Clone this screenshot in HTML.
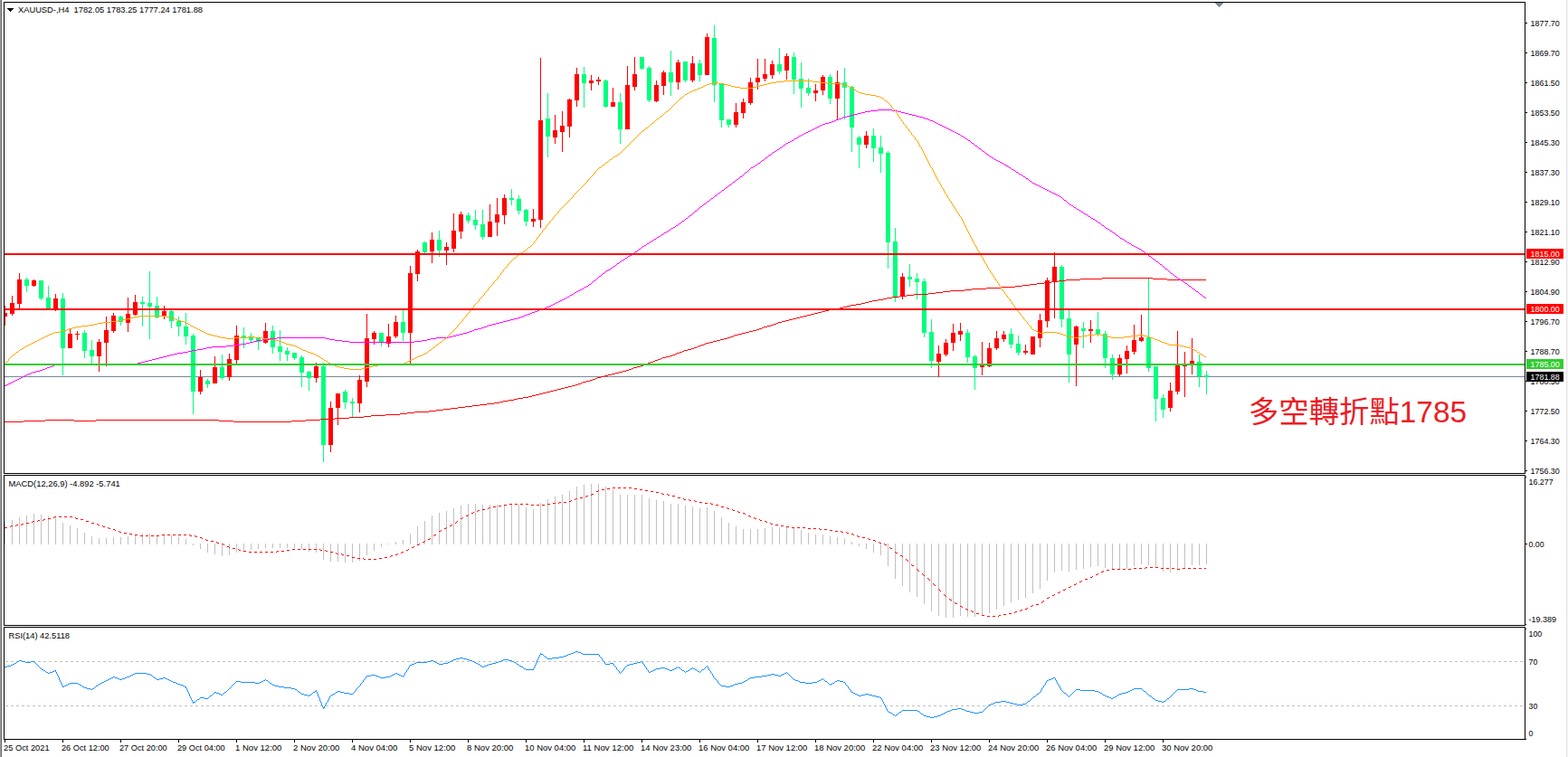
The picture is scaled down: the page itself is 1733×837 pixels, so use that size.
<!DOCTYPE html>
<html><head><meta charset="utf-8"><title>XAUUSD H4</title>
<style>html,body{margin:0;padding:0;background:#fff;overflow:hidden}svg{display:block}text{font-family:"Liberation Sans",sans-serif;font-size:9.5px;fill:#000}</style></head><body>
<svg width="1733" height="837" viewBox="0 0 1733 837">
<rect width="1733" height="837" fill="#fff"/>
<g shape-rendering="crispEdges">
<rect x="0" y="0" width="1" height="837" fill="#a0a0a0"/>
<rect x="1" y="0" width="1" height="837" fill="#696969"/>
<rect x="1731" y="0" width="1" height="837" fill="#e3e3e3"/>
<rect x="1732" y="0" width="1" height="837" fill="#f6f6f6"/>
</g>
<rect x="5" y="416" width="1680" height="1" fill="#778899" shape-rendering="crispEdges"/>
<g shape-rendering="crispEdges">
<rect x="5" y="338" width="1" height="22" fill="#ff0000"/>
<rect x="5" y="346" width="3" height="4" fill="#ff0000"/>
<rect x="13" y="327" width="1" height="22" fill="#ff0000"/>
<rect x="11" y="335" width="5" height="12" fill="#ff0000"/>
<rect x="21" y="302" width="1" height="39" fill="#ff0000"/>
<rect x="19" y="309" width="5" height="27" fill="#ff0000"/>
<rect x="29" y="307" width="1" height="16" fill="#00ff7f"/>
<rect x="27" y="309" width="5" height="7" fill="#00ff7f"/>
<rect x="37" y="309" width="1" height="8" fill="#ff0000"/>
<rect x="35" y="310" width="5" height="6" fill="#ff0000"/>
<rect x="45" y="310" width="1" height="22" fill="#00ff7f"/>
<rect x="43" y="310" width="5" height="20" fill="#00ff7f"/>
<rect x="53" y="316" width="1" height="25" fill="#00ff7f"/>
<rect x="51" y="329" width="5" height="12" fill="#00ff7f"/>
<rect x="61" y="325" width="1" height="19" fill="#ff0000"/>
<rect x="59" y="330" width="5" height="11" fill="#ff0000"/>
<rect x="69" y="324" width="1" height="91" fill="#00ff7f"/>
<rect x="67" y="330" width="5" height="55" fill="#00ff7f"/>
<rect x="77" y="364" width="1" height="21" fill="#ff0000"/>
<rect x="75" y="369" width="5" height="16" fill="#ff0000"/>
<rect x="85" y="366" width="1" height="10" fill="#ff0000"/>
<rect x="83" y="369" width="5" height="1" fill="#ff0000"/>
<rect x="93" y="365" width="1" height="31" fill="#00ff7f"/>
<rect x="91" y="368" width="5" height="20" fill="#00ff7f"/>
<rect x="101" y="376" width="1" height="26" fill="#00ff7f"/>
<rect x="99" y="387" width="5" height="7" fill="#00ff7f"/>
<rect x="109" y="375" width="1" height="36" fill="#ff0000"/>
<rect x="107" y="378" width="5" height="16" fill="#ff0000"/>
<rect x="117" y="350" width="1" height="55" fill="#ff0000"/>
<rect x="115" y="365" width="5" height="14" fill="#ff0000"/>
<rect x="125" y="346" width="1" height="22" fill="#ff0000"/>
<rect x="123" y="349" width="5" height="17" fill="#ff0000"/>
<rect x="133" y="349" width="1" height="11" fill="#00ff7f"/>
<rect x="131" y="350" width="5" height="6" fill="#00ff7f"/>
<rect x="141" y="329" width="1" height="38" fill="#ff0000"/>
<rect x="139" y="347" width="5" height="10" fill="#ff0000"/>
<rect x="149" y="326" width="1" height="23" fill="#ff0000"/>
<rect x="147" y="334" width="5" height="14" fill="#ff0000"/>
<rect x="157" y="328" width="1" height="33" fill="#00ff7f"/>
<rect x="155" y="334" width="5" height="2" fill="#00ff7f"/>
<rect x="165" y="300" width="1" height="75" fill="#00ff7f"/>
<rect x="163" y="335" width="5" height="4" fill="#00ff7f"/>
<rect x="173" y="328" width="1" height="24" fill="#00ff7f"/>
<rect x="171" y="338" width="5" height="13" fill="#00ff7f"/>
<rect x="181" y="338" width="1" height="15" fill="#ff0000"/>
<rect x="179" y="344" width="5" height="5" fill="#ff0000"/>
<rect x="189" y="343" width="1" height="20" fill="#00ff7f"/>
<rect x="187" y="344" width="5" height="11" fill="#00ff7f"/>
<rect x="197" y="350" width="1" height="22" fill="#00ff7f"/>
<rect x="195" y="355" width="5" height="6" fill="#00ff7f"/>
<rect x="205" y="346" width="1" height="35" fill="#00ff7f"/>
<rect x="203" y="361" width="5" height="11" fill="#00ff7f"/>
<rect x="213" y="369" width="1" height="89" fill="#00ff7f"/>
<rect x="211" y="371" width="5" height="62" fill="#00ff7f"/>
<rect x="221" y="409" width="1" height="27" fill="#ff0000"/>
<rect x="219" y="417" width="5" height="16" fill="#ff0000"/>
<rect x="229" y="419" width="1" height="10" fill="#00ff7f"/>
<rect x="227" y="421" width="5" height="4" fill="#00ff7f"/>
<rect x="237" y="394" width="1" height="30" fill="#ff0000"/>
<rect x="235" y="406" width="5" height="18" fill="#ff0000"/>
<rect x="245" y="392" width="1" height="28" fill="#00ff7f"/>
<rect x="243" y="406" width="5" height="12" fill="#00ff7f"/>
<rect x="253" y="391" width="1" height="30" fill="#ff0000"/>
<rect x="251" y="397" width="5" height="20" fill="#ff0000"/>
<rect x="261" y="360" width="1" height="42" fill="#ff0000"/>
<rect x="259" y="371" width="5" height="27" fill="#ff0000"/>
<rect x="269" y="362" width="1" height="23" fill="#00ff7f"/>
<rect x="267" y="371" width="5" height="3" fill="#00ff7f"/>
<rect x="277" y="368" width="1" height="10" fill="#00ff7f"/>
<rect x="275" y="373" width="5" height="3" fill="#00ff7f"/>
<rect x="285" y="373" width="1" height="14" fill="#00ff7f"/>
<rect x="283" y="374" width="5" height="4" fill="#00ff7f"/>
<rect x="293" y="357" width="1" height="23" fill="#ff0000"/>
<rect x="291" y="366" width="5" height="13" fill="#ff0000"/>
<rect x="301" y="360" width="1" height="31" fill="#00ff7f"/>
<rect x="299" y="366" width="5" height="18" fill="#00ff7f"/>
<rect x="309" y="365" width="1" height="34" fill="#00ff7f"/>
<rect x="307" y="383" width="5" height="6" fill="#00ff7f"/>
<rect x="317" y="384" width="1" height="15" fill="#00ff7f"/>
<rect x="315" y="388" width="5" height="4" fill="#00ff7f"/>
<rect x="325" y="390" width="1" height="8" fill="#00ff7f"/>
<rect x="323" y="390" width="5" height="6" fill="#00ff7f"/>
<rect x="333" y="393" width="1" height="35" fill="#00ff7f"/>
<rect x="331" y="395" width="5" height="17" fill="#00ff7f"/>
<rect x="341" y="410" width="1" height="22" fill="#00ff7f"/>
<rect x="339" y="411" width="5" height="7" fill="#00ff7f"/>
<rect x="349" y="401" width="1" height="22" fill="#ff0000"/>
<rect x="347" y="405" width="5" height="13" fill="#ff0000"/>
<rect x="357" y="401" width="1" height="110" fill="#00ff7f"/>
<rect x="355" y="405" width="5" height="87" fill="#00ff7f"/>
<rect x="365" y="444" width="1" height="56" fill="#ff0000"/>
<rect x="363" y="451" width="5" height="41" fill="#ff0000"/>
<rect x="373" y="435" width="1" height="35" fill="#ff0000"/>
<rect x="371" y="435" width="5" height="16" fill="#ff0000"/>
<rect x="381" y="431" width="1" height="21" fill="#00ff7f"/>
<rect x="379" y="433" width="5" height="12" fill="#00ff7f"/>
<rect x="389" y="440" width="1" height="22" fill="#00ff7f"/>
<rect x="387" y="444" width="5" height="2" fill="#00ff7f"/>
<rect x="397" y="415" width="1" height="41" fill="#ff0000"/>
<rect x="395" y="420" width="5" height="26" fill="#ff0000"/>
<rect x="405" y="347" width="1" height="81" fill="#ff0000"/>
<rect x="403" y="374" width="5" height="48" fill="#ff0000"/>
<rect x="413" y="366" width="1" height="15" fill="#ff0000"/>
<rect x="411" y="368" width="5" height="7" fill="#ff0000"/>
<rect x="421" y="368" width="1" height="15" fill="#00ff7f"/>
<rect x="419" y="368" width="5" height="10" fill="#00ff7f"/>
<rect x="429" y="358" width="1" height="26" fill="#ff0000"/>
<rect x="427" y="372" width="5" height="8" fill="#ff0000"/>
<rect x="437" y="349" width="1" height="25" fill="#ff0000"/>
<rect x="435" y="356" width="5" height="16" fill="#ff0000"/>
<rect x="445" y="343" width="1" height="34" fill="#00ff7f"/>
<rect x="443" y="356" width="5" height="12" fill="#00ff7f"/>
<rect x="453" y="294" width="1" height="108" fill="#ff0000"/>
<rect x="451" y="302" width="5" height="66" fill="#ff0000"/>
<rect x="461" y="276" width="1" height="35" fill="#ff0000"/>
<rect x="459" y="278" width="5" height="25" fill="#ff0000"/>
<rect x="469" y="267" width="1" height="13" fill="#00ff7f"/>
<rect x="467" y="268" width="5" height="11" fill="#00ff7f"/>
<rect x="477" y="257" width="1" height="34" fill="#ff0000"/>
<rect x="475" y="265" width="5" height="13" fill="#ff0000"/>
<rect x="485" y="255" width="1" height="29" fill="#00ff7f"/>
<rect x="483" y="265" width="5" height="12" fill="#00ff7f"/>
<rect x="493" y="268" width="1" height="25" fill="#ff0000"/>
<rect x="491" y="273" width="5" height="4" fill="#ff0000"/>
<rect x="501" y="236" width="1" height="43" fill="#ff0000"/>
<rect x="499" y="255" width="5" height="20" fill="#ff0000"/>
<rect x="509" y="234" width="1" height="30" fill="#ff0000"/>
<rect x="507" y="237" width="5" height="19" fill="#ff0000"/>
<rect x="517" y="235" width="1" height="12" fill="#00ff7f"/>
<rect x="515" y="238" width="5" height="6" fill="#00ff7f"/>
<rect x="525" y="232" width="1" height="22" fill="#00ff7f"/>
<rect x="523" y="243" width="5" height="6" fill="#00ff7f"/>
<rect x="533" y="232" width="1" height="33" fill="#00ff7f"/>
<rect x="531" y="248" width="5" height="14" fill="#00ff7f"/>
<rect x="541" y="226" width="1" height="36" fill="#ff0000"/>
<rect x="539" y="245" width="5" height="17" fill="#ff0000"/>
<rect x="549" y="219" width="1" height="42" fill="#ff0000"/>
<rect x="547" y="237" width="5" height="9" fill="#ff0000"/>
<rect x="557" y="215" width="1" height="33" fill="#ff0000"/>
<rect x="555" y="219" width="5" height="19" fill="#ff0000"/>
<rect x="565" y="209" width="1" height="18" fill="#00ff7f"/>
<rect x="563" y="219" width="5" height="2" fill="#00ff7f"/>
<rect x="573" y="216" width="1" height="21" fill="#00ff7f"/>
<rect x="571" y="220" width="5" height="13" fill="#00ff7f"/>
<rect x="581" y="231" width="1" height="19" fill="#00ff7f"/>
<rect x="579" y="232" width="5" height="13" fill="#00ff7f"/>
<rect x="589" y="231" width="1" height="20" fill="#ff0000"/>
<rect x="587" y="242" width="5" height="3" fill="#ff0000"/>
<rect x="597" y="64" width="1" height="188" fill="#ff0000"/>
<rect x="595" y="133" width="5" height="110" fill="#ff0000"/>
<rect x="605" y="103" width="1" height="71" fill="#00ff7f"/>
<rect x="603" y="131" width="5" height="20" fill="#00ff7f"/>
<rect x="613" y="127" width="1" height="32" fill="#ff0000"/>
<rect x="611" y="144" width="5" height="8" fill="#ff0000"/>
<rect x="621" y="123" width="1" height="45" fill="#ff0000"/>
<rect x="619" y="139" width="5" height="7" fill="#ff0000"/>
<rect x="629" y="109" width="1" height="43" fill="#ff0000"/>
<rect x="627" y="110" width="5" height="30" fill="#ff0000"/>
<rect x="637" y="75" width="1" height="43" fill="#ff0000"/>
<rect x="635" y="82" width="5" height="29" fill="#ff0000"/>
<rect x="645" y="74" width="1" height="45" fill="#00ff7f"/>
<rect x="643" y="82" width="5" height="10" fill="#00ff7f"/>
<rect x="653" y="83" width="1" height="17" fill="#ff0000"/>
<rect x="651" y="89" width="5" height="3" fill="#ff0000"/>
<rect x="661" y="85" width="1" height="9" fill="#ff0000"/>
<rect x="659" y="88" width="5" height="2" fill="#ff0000"/>
<rect x="669" y="88" width="1" height="31" fill="#00ff7f"/>
<rect x="667" y="89" width="5" height="29" fill="#00ff7f"/>
<rect x="677" y="97" width="1" height="21" fill="#ff0000"/>
<rect x="675" y="113" width="5" height="5" fill="#ff0000"/>
<rect x="685" y="103" width="1" height="56" fill="#00ff7f"/>
<rect x="683" y="113" width="5" height="30" fill="#00ff7f"/>
<rect x="693" y="73" width="1" height="70" fill="#ff0000"/>
<rect x="691" y="94" width="5" height="49" fill="#ff0000"/>
<rect x="701" y="63" width="1" height="37" fill="#ff0000"/>
<rect x="699" y="82" width="5" height="14" fill="#ff0000"/>
<rect x="709" y="63" width="1" height="14" fill="#00ff7f"/>
<rect x="707" y="63" width="5" height="13" fill="#00ff7f"/>
<rect x="717" y="73" width="1" height="40" fill="#00ff7f"/>
<rect x="715" y="75" width="5" height="36" fill="#00ff7f"/>
<rect x="725" y="89" width="1" height="24" fill="#ff0000"/>
<rect x="723" y="94" width="5" height="18" fill="#ff0000"/>
<rect x="733" y="78" width="1" height="27" fill="#ff0000"/>
<rect x="731" y="80" width="5" height="15" fill="#ff0000"/>
<rect x="741" y="56" width="1" height="50" fill="#00ff7f"/>
<rect x="739" y="80" width="5" height="11" fill="#00ff7f"/>
<rect x="749" y="66" width="1" height="33" fill="#ff0000"/>
<rect x="747" y="69" width="5" height="22" fill="#ff0000"/>
<rect x="757" y="68" width="1" height="23" fill="#00ff7f"/>
<rect x="755" y="68" width="5" height="21" fill="#00ff7f"/>
<rect x="765" y="62" width="1" height="29" fill="#ff0000"/>
<rect x="763" y="70" width="5" height="19" fill="#ff0000"/>
<rect x="773" y="66" width="1" height="24" fill="#00ff7f"/>
<rect x="771" y="70" width="5" height="13" fill="#00ff7f"/>
<rect x="781" y="37" width="1" height="46" fill="#ff0000"/>
<rect x="779" y="41" width="5" height="42" fill="#ff0000"/>
<rect x="789" y="28" width="1" height="85" fill="#00ff7f"/>
<rect x="787" y="42" width="5" height="52" fill="#00ff7f"/>
<rect x="797" y="92" width="1" height="49" fill="#00ff7f"/>
<rect x="795" y="92" width="5" height="41" fill="#00ff7f"/>
<rect x="805" y="132" width="1" height="9" fill="#00ff7f"/>
<rect x="803" y="132" width="5" height="6" fill="#00ff7f"/>
<rect x="813" y="114" width="1" height="27" fill="#ff0000"/>
<rect x="811" y="124" width="5" height="14" fill="#ff0000"/>
<rect x="821" y="109" width="1" height="22" fill="#ff0000"/>
<rect x="819" y="113" width="5" height="12" fill="#ff0000"/>
<rect x="829" y="86" width="1" height="30" fill="#ff0000"/>
<rect x="827" y="91" width="5" height="23" fill="#ff0000"/>
<rect x="837" y="65" width="1" height="34" fill="#ff0000"/>
<rect x="835" y="86" width="5" height="5" fill="#ff0000"/>
<rect x="845" y="65" width="1" height="25" fill="#ff0000"/>
<rect x="843" y="82" width="5" height="5" fill="#ff0000"/>
<rect x="853" y="67" width="1" height="20" fill="#ff0000"/>
<rect x="851" y="71" width="5" height="12" fill="#ff0000"/>
<rect x="861" y="53" width="1" height="29" fill="#00ff7f"/>
<rect x="859" y="71" width="5" height="8" fill="#00ff7f"/>
<rect x="869" y="59" width="1" height="29" fill="#ff0000"/>
<rect x="867" y="62" width="5" height="16" fill="#ff0000"/>
<rect x="877" y="58" width="1" height="46" fill="#00ff7f"/>
<rect x="875" y="63" width="5" height="25" fill="#00ff7f"/>
<rect x="885" y="69" width="1" height="50" fill="#00ff7f"/>
<rect x="883" y="87" width="5" height="11" fill="#00ff7f"/>
<rect x="893" y="87" width="1" height="19" fill="#00ff7f"/>
<rect x="891" y="97" width="5" height="6" fill="#00ff7f"/>
<rect x="901" y="93" width="1" height="19" fill="#ff0000"/>
<rect x="899" y="100" width="5" height="3" fill="#ff0000"/>
<rect x="909" y="83" width="1" height="22" fill="#ff0000"/>
<rect x="907" y="85" width="5" height="15" fill="#ff0000"/>
<rect x="917" y="82" width="1" height="33" fill="#00ff7f"/>
<rect x="915" y="85" width="5" height="24" fill="#00ff7f"/>
<rect x="925" y="78" width="1" height="54" fill="#ff0000"/>
<rect x="923" y="91" width="5" height="18" fill="#ff0000"/>
<rect x="933" y="75" width="1" height="57" fill="#00ff7f"/>
<rect x="931" y="91" width="5" height="6" fill="#00ff7f"/>
<rect x="941" y="95" width="1" height="73" fill="#00ff7f"/>
<rect x="939" y="96" width="5" height="45" fill="#00ff7f"/>
<rect x="949" y="150" width="1" height="36" fill="#00ff7f"/>
<rect x="947" y="152" width="5" height="8" fill="#00ff7f"/>
<rect x="957" y="145" width="1" height="19" fill="#ff0000"/>
<rect x="955" y="150" width="5" height="10" fill="#ff0000"/>
<rect x="965" y="142" width="1" height="37" fill="#00ff7f"/>
<rect x="963" y="150" width="5" height="14" fill="#00ff7f"/>
<rect x="973" y="150" width="1" height="41" fill="#00ff7f"/>
<rect x="971" y="163" width="5" height="7" fill="#00ff7f"/>
<rect x="981" y="167" width="1" height="130" fill="#00ff7f"/>
<rect x="979" y="169" width="5" height="99" fill="#00ff7f"/>
<rect x="989" y="252" width="1" height="82" fill="#00ff7f"/>
<rect x="987" y="267" width="5" height="61" fill="#00ff7f"/>
<rect x="997" y="302" width="1" height="29" fill="#ff0000"/>
<rect x="995" y="306" width="5" height="22" fill="#ff0000"/>
<rect x="1005" y="292" width="1" height="25" fill="#00ff7f"/>
<rect x="1003" y="306" width="5" height="3" fill="#00ff7f"/>
<rect x="1013" y="302" width="1" height="29" fill="#00ff7f"/>
<rect x="1011" y="308" width="5" height="4" fill="#00ff7f"/>
<rect x="1021" y="308" width="1" height="65" fill="#00ff7f"/>
<rect x="1019" y="311" width="5" height="57" fill="#00ff7f"/>
<rect x="1029" y="353" width="1" height="54" fill="#00ff7f"/>
<rect x="1027" y="367" width="5" height="32" fill="#00ff7f"/>
<rect x="1037" y="382" width="1" height="35" fill="#ff0000"/>
<rect x="1035" y="391" width="5" height="9" fill="#ff0000"/>
<rect x="1045" y="375" width="1" height="19" fill="#ff0000"/>
<rect x="1043" y="379" width="5" height="13" fill="#ff0000"/>
<rect x="1053" y="358" width="1" height="30" fill="#ff0000"/>
<rect x="1051" y="368" width="5" height="11" fill="#ff0000"/>
<rect x="1061" y="357" width="1" height="20" fill="#ff0000"/>
<rect x="1059" y="366" width="5" height="4" fill="#ff0000"/>
<rect x="1069" y="364" width="1" height="37" fill="#00ff7f"/>
<rect x="1067" y="368" width="5" height="27" fill="#00ff7f"/>
<rect x="1077" y="392" width="1" height="39" fill="#00ff7f"/>
<rect x="1075" y="394" width="5" height="13" fill="#00ff7f"/>
<rect x="1085" y="378" width="1" height="37" fill="#ff0000"/>
<rect x="1083" y="404" width="5" height="2" fill="#ff0000"/>
<rect x="1093" y="379" width="1" height="27" fill="#ff0000"/>
<rect x="1091" y="385" width="5" height="20" fill="#ff0000"/>
<rect x="1101" y="366" width="1" height="21" fill="#ff0000"/>
<rect x="1099" y="374" width="5" height="11" fill="#ff0000"/>
<rect x="1109" y="366" width="1" height="12" fill="#ff0000"/>
<rect x="1107" y="370" width="5" height="5" fill="#ff0000"/>
<rect x="1117" y="363" width="1" height="22" fill="#00ff7f"/>
<rect x="1115" y="369" width="5" height="12" fill="#00ff7f"/>
<rect x="1125" y="371" width="1" height="22" fill="#00ff7f"/>
<rect x="1123" y="380" width="5" height="10" fill="#00ff7f"/>
<rect x="1133" y="381" width="1" height="11" fill="#ff0000"/>
<rect x="1131" y="388" width="5" height="2" fill="#ff0000"/>
<rect x="1141" y="372" width="1" height="20" fill="#ff0000"/>
<rect x="1139" y="372" width="5" height="20" fill="#ff0000"/>
<rect x="1149" y="347" width="1" height="37" fill="#ff0000"/>
<rect x="1147" y="354" width="5" height="20" fill="#ff0000"/>
<rect x="1157" y="307" width="1" height="55" fill="#ff0000"/>
<rect x="1155" y="310" width="5" height="45" fill="#ff0000"/>
<rect x="1165" y="279" width="1" height="73" fill="#ff0000"/>
<rect x="1163" y="295" width="5" height="16" fill="#ff0000"/>
<rect x="1173" y="293" width="1" height="69" fill="#00ff7f"/>
<rect x="1171" y="295" width="5" height="58" fill="#00ff7f"/>
<rect x="1181" y="343" width="1" height="80" fill="#00ff7f"/>
<rect x="1179" y="352" width="5" height="40" fill="#00ff7f"/>
<rect x="1189" y="360" width="1" height="67" fill="#ff0000"/>
<rect x="1187" y="361" width="5" height="20" fill="#ff0000"/>
<rect x="1197" y="356" width="1" height="29" fill="#00ff7f"/>
<rect x="1195" y="363" width="5" height="3" fill="#00ff7f"/>
<rect x="1205" y="354" width="1" height="25" fill="#ff0000"/>
<rect x="1203" y="364" width="5" height="2" fill="#ff0000"/>
<rect x="1213" y="345" width="1" height="27" fill="#00ff7f"/>
<rect x="1211" y="364" width="5" height="5" fill="#00ff7f"/>
<rect x="1221" y="366" width="1" height="41" fill="#00ff7f"/>
<rect x="1219" y="369" width="5" height="27" fill="#00ff7f"/>
<rect x="1229" y="392" width="1" height="28" fill="#00ff7f"/>
<rect x="1227" y="396" width="5" height="18" fill="#00ff7f"/>
<rect x="1237" y="392" width="1" height="24" fill="#ff0000"/>
<rect x="1235" y="396" width="5" height="18" fill="#ff0000"/>
<rect x="1245" y="382" width="1" height="31" fill="#ff0000"/>
<rect x="1243" y="388" width="5" height="9" fill="#ff0000"/>
<rect x="1253" y="359" width="1" height="33" fill="#ff0000"/>
<rect x="1251" y="376" width="5" height="13" fill="#ff0000"/>
<rect x="1261" y="348" width="1" height="30" fill="#ff0000"/>
<rect x="1259" y="373" width="5" height="4" fill="#ff0000"/>
<rect x="1269" y="308" width="1" height="103" fill="#00ff7f"/>
<rect x="1267" y="373" width="5" height="34" fill="#00ff7f"/>
<rect x="1277" y="405" width="1" height="61" fill="#00ff7f"/>
<rect x="1275" y="405" width="5" height="36" fill="#00ff7f"/>
<rect x="1285" y="436" width="1" height="26" fill="#00ff7f"/>
<rect x="1283" y="440" width="5" height="13" fill="#00ff7f"/>
<rect x="1293" y="423" width="1" height="32" fill="#ff0000"/>
<rect x="1291" y="432" width="5" height="19" fill="#ff0000"/>
<rect x="1301" y="366" width="1" height="70" fill="#ff0000"/>
<rect x="1299" y="403" width="5" height="30" fill="#ff0000"/>
<rect x="1309" y="389" width="1" height="50" fill="#ff0000"/>
<rect x="1307" y="403" width="5" height="2" fill="#ff0000"/>
<rect x="1317" y="374" width="1" height="40" fill="#ff0000"/>
<rect x="1315" y="399" width="5" height="3" fill="#ff0000"/>
<rect x="1325" y="392" width="1" height="36" fill="#00ff7f"/>
<rect x="1323" y="400" width="5" height="16" fill="#00ff7f"/>
<rect x="1333" y="410" width="1" height="26" fill="#00ff7f"/>
<rect x="1331" y="415" width="5" height="2" fill="#00ff7f"/>
</g>
<path d="M5 466h21v1h-21zM26 465h24v1h-24zM50 464h32v1h-32zM82 465h24v1h-24zM106 464h136v1h-136zM242 465h16v1h-16zM258 466h64v1h-64zM322 465h16v1h-16zM338 464h16v1h-16zM354 463h16v1h-16zM370 462h16v1h-16zM386 461h16v1h-16zM402 460h8v1h-8zM410 459h16v1h-16zM426 458h16v1h-16zM442 457h8v1h-8zM450 456h8v1h-8zM458 455h16v1h-16zM474 454h8v1h-8zM482 453h8v1h-8zM490 452h8v1h-8zM498 451h8v1h-8zM506 450h8v1h-8zM514 449h8v1h-8zM522 448h8v1h-8zM530 447h8v1h-8zM538 446h8v1h-8zM546 445h6v1h-6zM552 444h4v1h-4zM556 443h6v1h-6zM562 442h6v1h-6zM568 441h4v1h-4zM572 440h6v1h-6zM578 439h6v1h-6zM584 438h4v1h-4zM588 437h4v1h-4zM592 436h4v1h-4zM596 435h4v1h-4zM600 434h4v1h-4zM604 433h4v1h-4zM608 432h4v1h-4zM612 431h4v1h-4zM616 430h4v1h-4zM620 429h4v1h-4zM624 428h4v1h-4zM628 427h4v1h-4zM632 426h4v1h-4zM636 425h3v1h-3zM639 424h3v1h-3zM642 423h2v1h-2zM644 422h4v1h-4zM648 421h4v1h-4zM652 420h3v1h-3zM655 419h3v1h-3zM658 418h2v1h-2zM660 417h4v1h-4zM664 416h4v1h-4zM668 415h4v1h-4zM672 414h4v1h-4zM676 413h4v1h-4zM680 412h4v1h-4zM684 411h4v1h-4zM688 410h4v1h-4zM692 409h3v1h-3zM695 408h3v1h-3zM698 407h2v1h-2zM700 406h4v1h-4zM704 405h4v1h-4zM708 404h3v1h-3zM711 403h3v1h-3zM714 402h2v1h-2zM716 401h3v1h-3zM719 400h3v1h-3zM722 399h2v1h-2zM724 398h3v1h-3zM727 397h3v1h-3zM730 396h2v1h-2zM732 395h4v1h-4zM736 394h4v1h-4zM740 393h3v1h-3zM743 392h3v1h-3zM746 391h2v1h-2zM748 390h3v1h-3zM751 389h3v1h-3zM754 388h2v1h-2zM756 387h4v1h-4zM760 386h4v1h-4zM764 385h3v1h-3zM767 384h3v1h-3zM770 383h2v1h-2zM772 382h3v1h-3zM775 381h3v1h-3zM778 380h2v1h-2zM780 379h4v1h-4zM784 378h4v1h-4zM788 377h4v1h-4zM792 376h4v1h-4zM796 375h4v1h-4zM800 374h4v1h-4zM804 373h3v1h-3zM807 372h3v1h-3zM810 371h2v1h-2zM812 370h4v1h-4zM816 369h4v1h-4zM820 368h4v1h-4zM824 367h4v1h-4zM828 366h4v1h-4zM832 365h4v1h-4zM836 364h3v1h-3zM839 363h3v1h-3zM842 362h2v1h-2zM844 361h4v1h-4zM848 360h4v1h-4zM852 359h3v1h-3zM855 358h3v1h-3zM858 357h2v1h-2zM860 356h4v1h-4zM864 355h4v1h-4zM868 354h4v1h-4zM872 353h4v1h-4zM876 352h4v1h-4zM880 351h4v1h-4zM884 350h4v1h-4zM888 349h4v1h-4zM892 348h4v1h-4zM896 347h4v1h-4zM900 346h4v1h-4zM904 345h4v1h-4zM908 344h4v1h-4zM912 343h4v1h-4zM916 342h6v1h-6zM922 341h6v1h-6zM928 340h4v1h-4zM932 339h4v1h-4zM936 338h4v1h-4zM940 337h6v1h-6zM946 336h6v1h-6zM952 335h4v1h-4zM956 334h4v1h-4zM960 333h4v1h-4zM964 332h6v1h-6zM970 331h6v1h-6zM976 330h4v1h-4zM980 329h6v1h-6zM986 328h8v1h-8zM994 327h8v1h-8zM1002 326h8v1h-8zM1010 325h16v1h-16zM1026 324h8v1h-8zM1034 323h8v1h-8zM1042 322h8v1h-8zM1050 321h16v1h-16zM1066 320h8v1h-8zM1074 319h16v1h-16zM1090 318h16v1h-16zM1106 317h16v1h-16zM1122 316h8v1h-8zM1130 315h8v1h-8zM1138 314h8v1h-8zM1146 313h8v1h-8zM1154 312h8v1h-8zM1162 311h8v1h-8zM1170 310h8v1h-8zM1178 309h16v1h-16zM1194 308h24v1h-24zM1218 307h56v1h-56zM1274 308h16v1h-16zM1290 309h43v1h-43z" fill="#ff0000" shape-rendering="crispEdges"/>
<path d="M5 426h2v1h-2zM7 425h2v1h-2zM9 424h2v1h-2zM11 423h2v1h-2zM13 422h2v1h-2zM15 421h2v1h-2zM17 420h2v1h-2zM19 419h2v1h-2zM21 418h2v1h-2zM23 417h2v1h-2zM25 416h2v1h-2zM27 415h2v1h-2zM29 414h2v1h-2zM31 413h3v1h-3zM34 412h2v1h-2zM36 411h4v1h-4zM40 410h4v1h-4zM44 409h3v1h-3zM47 408h3v1h-3zM50 407h2v1h-2zM52 406h3v1h-3zM55 405h3v1h-3zM58 404h2v1h-2zM60 403h86v1h-86zM146 402h6v1h-6zM152 401h4v1h-4zM156 400h4v1h-4zM160 399h4v1h-4zM164 398h4v1h-4zM168 397h4v1h-4zM172 396h4v1h-4zM176 395h4v1h-4zM180 394h4v1h-4zM184 393h4v1h-4zM188 392h4v1h-4zM192 391h4v1h-4zM196 390h6v1h-6zM202 389h6v1h-6zM208 388h4v1h-4zM212 387h6v1h-6zM218 386h6v1h-6zM224 385h4v1h-4zM228 384h6v1h-6zM234 383h16v1h-16zM250 382h8v1h-8zM258 381h8v1h-8zM266 380h6v1h-6zM272 379h4v1h-4zM276 378h4v1h-4zM280 377h4v1h-4zM284 376h6v1h-6zM290 375h8v1h-8zM298 374h8v1h-8zM306 373h54v1h-54zM360 374h4v1h-4zM364 375h6v1h-6zM370 376h8v1h-8zM378 377h8v1h-8zM386 378h72v1h-72zM458 377h8v1h-8zM466 376h6v1h-6zM472 375h4v1h-4zM476 374h6v1h-6zM482 373h14v1h-14zM496 372h4v1h-4zM500 371h4v1h-4zM504 370h4v1h-4zM508 369h4v1h-4zM512 368h4v1h-4zM516 367h3v1h-3zM519 366h3v1h-3zM522 365h2v1h-2zM524 364h4v1h-4zM528 363h4v1h-4zM532 362h3v1h-3zM535 361h3v1h-3zM538 360h2v1h-2zM540 359h4v1h-4zM544 358h4v1h-4zM548 357h4v1h-4zM552 356h4v1h-4zM556 355h4v1h-4zM560 354h4v1h-4zM564 353h4v1h-4zM568 352h4v1h-4zM572 351h3v1h-3zM575 350h3v1h-3zM578 349h2v1h-2zM580 348h3v1h-3zM583 347h3v1h-3zM586 346h2v1h-2zM588 345h3v1h-3zM591 344h3v1h-3zM594 343h2v1h-2zM596 342h3v1h-3zM599 341h3v1h-3zM602 340h2v1h-2zM604 339h3v1h-3zM607 338h2v1h-2zM609 337h2v1h-2zM611 336h2v1h-2zM613 335h2v1h-2zM615 334h2v1h-2zM617 333h2v1h-2zM619 332h2v1h-2zM621 331h2v1h-2zM623 330h2v1h-2zM625 329h2v1h-2zM627 328h2v1h-2zM630 326h2v1h-2zM632 325h2v1h-2zM635 323h2v1h-2zM637 322h2v1h-2zM639 321h2v1h-2zM641 320h2v1h-2zM643 319h2v1h-2zM646 317h2v1h-2zM648 316h2v1h-2zM651 314h2v1h-2zM656 310h2v1h-2zM662 305h2v1h-2zM666 302h2v1h-2zM670 299h2v1h-2zM672 298h2v1h-2zM675 296h2v1h-2zM678 294h2v1h-2zM682 291h2v1h-2zM686 288h2v1h-2zM688 287h2v1h-2zM691 285h2v1h-2zM694 283h2v1h-2zM696 282h2v1h-2zM699 280h2v1h-2zM702 278h2v1h-2zM706 275h2v1h-2zM710 272h2v1h-2zM712 271h2v1h-2zM715 269h2v1h-2zM718 267h2v1h-2zM720 266h2v1h-2zM723 264h2v1h-2zM726 262h2v1h-2zM728 261h2v1h-2zM731 259h2v1h-2zM734 257h2v1h-2zM736 256h2v1h-2zM739 254h2v1h-2zM742 252h2v1h-2zM744 251h2v1h-2zM747 249h2v1h-2zM750 247h2v1h-2zM754 244h2v1h-2zM758 241h2v1h-2zM762 238h2v1h-2zM768 233h2v1h-2zM774 228h2v1h-2zM778 225h2v1h-2zM782 222h2v1h-2zM786 219h2v1h-2zM790 216h2v1h-2zM794 213h2v1h-2zM798 210h2v1h-2zM802 207h2v1h-2zM806 204h2v1h-2zM810 201h2v1h-2zM814 198h2v1h-2zM818 195h2v1h-2zM824 190h2v1h-2zM830 185h2v1h-2zM832 184h2v1h-2zM835 182h2v1h-2zM838 180h2v1h-2zM842 177h2v1h-2zM846 174h2v1h-2zM850 171h2v1h-2zM854 168h2v1h-2zM856 167h2v1h-2zM859 165h2v1h-2zM862 163h2v1h-2zM866 160h2v1h-2zM869 158h2v1h-2zM871 157h2v1h-2zM873 156h2v1h-2zM875 155h2v1h-2zM878 153h2v1h-2zM880 152h2v1h-2zM883 150h2v1h-2zM885 149h2v1h-2zM887 148h2v1h-2zM889 147h2v1h-2zM891 146h2v1h-2zM893 145h2v1h-2zM895 144h2v1h-2zM897 143h2v1h-2zM899 142h2v1h-2zM901 141h2v1h-2zM903 140h2v1h-2zM905 139h2v1h-2zM907 138h2v1h-2zM909 137h3v1h-3zM912 136h4v1h-4zM916 135h3v1h-3zM919 134h3v1h-3zM922 133h2v1h-2zM924 132h3v1h-3zM927 131h3v1h-3zM930 130h2v1h-2zM932 129h4v1h-4zM936 128h4v1h-4zM940 127h4v1h-4zM944 126h4v1h-4zM948 125h4v1h-4zM952 124h4v1h-4zM956 123h6v1h-6zM962 122h8v1h-8zM970 121h16v1h-16zM986 122h6v1h-6zM992 123h4v1h-4zM996 124h4v1h-4zM1000 125h4v1h-4zM1004 126h4v1h-4zM1008 127h4v1h-4zM1012 128h4v1h-4zM1016 129h4v1h-4zM1020 130h3v1h-3zM1023 131h3v1h-3zM1026 132h2v1h-2zM1028 133h3v1h-3zM1031 134h2v1h-2zM1033 135h2v1h-2zM1035 136h2v1h-2zM1037 137h2v1h-2zM1039 138h2v1h-2zM1041 139h2v1h-2zM1043 140h2v1h-2zM1045 141h2v1h-2zM1047 142h2v1h-2zM1049 143h2v1h-2zM1051 144h2v1h-2zM1053 145h2v1h-2zM1055 146h2v1h-2zM1057 147h2v1h-2zM1059 148h2v1h-2zM1062 150h2v1h-2zM1064 151h2v1h-2zM1067 153h2v1h-2zM1070 155h2v1h-2zM1074 158h2v1h-2zM1078 161h2v1h-2zM1082 164h2v1h-2zM1086 167h2v1h-2zM1090 170h2v1h-2zM1094 173h2v1h-2zM1096 174h2v1h-2zM1099 176h2v1h-2zM1101 177h2v1h-2zM1103 178h2v1h-2zM1105 179h2v1h-2zM1107 180h2v1h-2zM1110 182h2v1h-2zM1112 183h2v1h-2zM1115 185h2v1h-2zM1118 187h2v1h-2zM1120 188h2v1h-2zM1123 190h2v1h-2zM1126 192h2v1h-2zM1128 193h2v1h-2zM1131 195h2v1h-2zM1134 197h2v1h-2zM1138 200h2v1h-2zM1141 202h2v1h-2zM1143 203h2v1h-2zM1145 204h2v1h-2zM1147 205h2v1h-2zM1149 206h2v1h-2zM1151 207h2v1h-2zM1153 208h2v1h-2zM1155 209h2v1h-2zM1157 210h2v1h-2zM1159 211h2v1h-2zM1161 212h2v1h-2zM1163 213h2v1h-2zM1165 214h2v1h-2zM1167 215h2v1h-2zM1169 216h2v1h-2zM1171 217h2v1h-2zM1176 221h2v1h-2zM1182 226h2v1h-2zM1184 227h2v1h-2zM1187 229h2v1h-2zM1190 231h2v1h-2zM1192 232h2v1h-2zM1195 234h2v1h-2zM1198 236h2v1h-2zM1200 237h2v1h-2zM1203 239h2v1h-2zM1206 241h2v1h-2zM1208 242h2v1h-2zM1211 244h2v1h-2zM1214 246h2v1h-2zM1218 249h2v1h-2zM1222 252h2v1h-2zM1224 253h2v1h-2zM1227 255h2v1h-2zM1230 257h2v1h-2zM1234 260h2v1h-2zM1238 263h2v1h-2zM1240 264h2v1h-2zM1243 266h2v1h-2zM1246 268h2v1h-2zM1248 269h2v1h-2zM1251 271h2v1h-2zM1253 272h2v1h-2zM1255 273h2v1h-2zM1257 274h2v1h-2zM1259 275h2v1h-2zM1262 277h2v1h-2zM1266 280h2v1h-2zM1270 283h2v1h-2zM1274 286h2v1h-2zM1278 289h2v1h-2zM1282 292h2v1h-2zM1288 297h2v1h-2zM1294 302h2v1h-2zM1298 305h2v1h-2zM1302 308h2v1h-2zM1304 309h2v1h-2zM1307 311h2v1h-2zM1310 313h2v1h-2zM1314 316h2v1h-2zM1318 319h2v1h-2zM1322 322h2v1h-2zM1326 325h2v1h-2zM1330 328h2v1h-2zM629 327v1h1v-1zM634 324v1h1v-1zM645 318v1h1v-1zM650 315v1h1v-1zM653 313v1h1v-1zM654 312v1h1v-1zM655 311v1h1v-1zM658 309v1h1v-1zM659 308v1h1v-1zM660 307v1h1v-1zM661 306v1h1v-1zM664 304v1h1v-1zM665 303v1h1v-1zM668 301v1h1v-1zM669 300v1h1v-1zM674 297v1h1v-1zM677 295v1h1v-1zM680 293v1h1v-1zM681 292v1h1v-1zM684 290v1h1v-1zM685 289v1h1v-1zM690 286v1h1v-1zM693 284v1h1v-1zM698 281v1h1v-1zM701 279v1h1v-1zM704 277v1h1v-1zM705 276v1h1v-1zM708 274v1h1v-1zM709 273v1h1v-1zM714 270v1h1v-1zM717 268v1h1v-1zM722 265v1h1v-1zM725 263v1h1v-1zM730 260v1h1v-1zM733 258v1h1v-1zM738 255v1h1v-1zM741 253v1h1v-1zM746 250v1h1v-1zM749 248v1h1v-1zM752 246v1h1v-1zM753 245v1h1v-1zM756 243v1h1v-1zM757 242v1h1v-1zM760 240v1h1v-1zM761 239v1h1v-1zM764 237v1h1v-1zM765 236v1h1v-1zM766 235v1h1v-1zM767 234v1h1v-1zM770 232v1h1v-1zM771 231v1h1v-1zM772 230v1h1v-1zM773 229v1h1v-1zM776 227v1h1v-1zM777 226v1h1v-1zM780 224v1h1v-1zM781 223v1h1v-1zM784 221v1h1v-1zM785 220v1h1v-1zM788 218v1h1v-1zM789 217v1h1v-1zM792 215v1h1v-1zM793 214v1h1v-1zM796 212v1h1v-1zM797 211v1h1v-1zM800 209v1h1v-1zM801 208v1h1v-1zM804 206v1h1v-1zM805 205v1h1v-1zM808 203v1h1v-1zM809 202v1h1v-1zM812 200v1h1v-1zM813 199v1h1v-1zM816 197v1h1v-1zM817 196v1h1v-1zM820 194v1h1v-1zM821 193v1h1v-1zM822 192v1h1v-1zM823 191v1h1v-1zM826 189v1h1v-1zM827 188v1h1v-1zM828 187v1h1v-1zM829 186v1h1v-1zM834 183v1h1v-1zM837 181v1h1v-1zM840 179v1h1v-1zM841 178v1h1v-1zM844 176v1h1v-1zM845 175v1h1v-1zM848 173v1h1v-1zM849 172v1h1v-1zM852 170v1h1v-1zM853 169v1h1v-1zM858 166v1h1v-1zM861 164v1h1v-1zM864 162v1h1v-1zM865 161v1h1v-1zM868 159v1h1v-1zM877 154v1h1v-1zM882 151v1h1v-1zM1061 149v1h1v-1zM1066 152v1h1v-1zM1069 154v1h1v-1zM1072 156v1h1v-1zM1073 157v1h1v-1zM1076 159v1h1v-1zM1077 160v1h1v-1zM1080 162v1h1v-1zM1081 163v1h1v-1zM1084 165v1h1v-1zM1085 166v1h1v-1zM1088 168v1h1v-1zM1089 169v1h1v-1zM1092 171v1h1v-1zM1093 172v1h1v-1zM1098 175v1h1v-1zM1109 181v1h1v-1zM1114 184v1h1v-1zM1117 186v1h1v-1zM1122 189v1h1v-1zM1125 191v1h1v-1zM1130 194v1h1v-1zM1133 196v1h1v-1zM1136 198v1h1v-1zM1137 199v1h1v-1zM1140 201v1h1v-1zM1173 218v1h1v-1zM1174 219v1h1v-1zM1175 220v1h1v-1zM1178 222v1h1v-1zM1179 223v1h1v-1zM1180 224v1h1v-1zM1181 225v1h1v-1zM1186 228v1h1v-1zM1189 230v1h1v-1zM1194 233v1h1v-1zM1197 235v1h1v-1zM1202 238v1h1v-1zM1205 240v1h1v-1zM1210 243v1h1v-1zM1213 245v1h1v-1zM1216 247v1h1v-1zM1217 248v1h1v-1zM1220 250v1h1v-1zM1221 251v1h1v-1zM1226 254v1h1v-1zM1229 256v1h1v-1zM1232 258v1h1v-1zM1233 259v1h1v-1zM1236 261v1h1v-1zM1237 262v1h1v-1zM1242 265v1h1v-1zM1245 267v1h1v-1zM1250 270v1h1v-1zM1261 276v1h1v-1zM1264 278v1h1v-1zM1265 279v1h1v-1zM1268 281v1h1v-1zM1269 282v1h1v-1zM1272 284v1h1v-1zM1273 285v1h1v-1zM1276 287v1h1v-1zM1277 288v1h1v-1zM1280 290v1h1v-1zM1281 291v1h1v-1zM1284 293v1h1v-1zM1285 294v1h1v-1zM1286 295v1h1v-1zM1287 296v1h1v-1zM1290 298v1h1v-1zM1291 299v1h1v-1zM1292 300v1h1v-1zM1293 301v1h1v-1zM1296 303v1h1v-1zM1297 304v1h1v-1zM1300 306v1h1v-1zM1301 307v1h1v-1zM1306 310v1h1v-1zM1309 312v1h1v-1zM1312 314v1h1v-1zM1313 315v1h1v-1zM1316 317v1h1v-1zM1317 318v1h1v-1zM1320 320v1h1v-1zM1321 321v1h1v-1zM1324 323v1h1v-1zM1325 324v1h1v-1zM1328 326v1h1v-1zM1329 327v1h1v-1zM1332 329v1h1v-1z" fill="#ff00ff" shape-rendering="crispEdges"/>
<path d="M14 392h2v1h-2zM18 389h2v1h-2zM22 386h2v1h-2zM24 385h2v1h-2zM27 383h2v1h-2zM29 382h2v1h-2zM31 381h2v1h-2zM33 380h2v1h-2zM35 379h2v1h-2zM37 378h2v1h-2zM39 377h2v1h-2zM41 376h2v1h-2zM43 375h2v1h-2zM45 374h2v1h-2zM47 373h2v1h-2zM49 372h2v1h-2zM51 371h2v1h-2zM53 370h2v1h-2zM55 369h3v1h-3zM58 368h2v1h-2zM60 367h6v1h-6zM66 366h5v1h-5zM71 365h3v1h-3zM74 364h2v1h-2zM76 363h4v1h-4zM80 362h4v1h-4zM84 361h6v1h-6zM90 360h8v1h-8zM98 359h6v1h-6zM104 358h4v1h-4zM108 357h6v1h-6zM114 356h8v1h-8zM122 355h8v1h-8zM130 354h6v1h-6zM136 353h4v1h-4zM140 352h4v1h-4zM144 351h4v1h-4zM148 350h6v1h-6zM154 349h30v1h-30zM184 350h4v1h-4zM188 351h3v1h-3zM191 352h3v1h-3zM194 353h2v1h-2zM196 354h4v1h-4zM200 355h4v1h-4zM204 356h2v1h-2zM206 357h2v1h-2zM208 358h2v1h-2zM211 360h2v1h-2zM213 361h2v1h-2zM215 362h2v1h-2zM217 363h2v1h-2zM219 364h2v1h-2zM221 365h2v1h-2zM223 366h2v1h-2zM225 367h2v1h-2zM227 368h2v1h-2zM229 369h3v1h-3zM232 370h4v1h-4zM236 371h4v1h-4zM240 372h4v1h-4zM244 373h6v1h-6zM250 374h8v1h-8zM258 373h16v1h-16zM274 372h8v1h-8zM282 373h8v1h-8zM290 374h8v1h-8zM298 375h6v1h-6zM304 376h4v1h-4zM308 377h3v1h-3zM311 378h3v1h-3zM314 379h2v1h-2zM316 380h4v1h-4zM320 381h4v1h-4zM324 382h3v1h-3zM327 383h2v1h-2zM329 384h2v1h-2zM331 385h2v1h-2zM333 386h2v1h-2zM335 387h3v1h-3zM338 388h2v1h-2zM340 389h3v1h-3zM343 390h3v1h-3zM346 391h2v1h-2zM348 392h2v1h-2zM350 393h2v1h-2zM352 394h2v1h-2zM355 396h2v1h-2zM358 398h2v1h-2zM360 399h2v1h-2zM363 401h2v1h-2zM365 402h2v1h-2zM367 403h3v1h-3zM370 404h2v1h-2zM372 405h4v1h-4zM376 406h4v1h-4zM380 407h6v1h-6zM386 408h14v1h-14zM400 407h4v1h-4zM404 406h4v1h-4zM408 405h4v1h-4zM412 404h6v1h-6zM418 403h16v1h-16zM434 402h13v1h-13zM447 401h2v1h-2zM449 400h2v1h-2zM451 399h2v1h-2zM453 398h2v1h-2zM455 397h2v1h-2zM457 396h2v1h-2zM459 395h2v1h-2zM461 394h2v1h-2zM463 393h3v1h-3zM466 392h2v1h-2zM468 391h2v1h-2zM470 390h2v1h-2zM474 387h2v1h-2zM478 384h2v1h-2zM482 381h2v1h-2zM486 378h2v1h-2zM490 375h2v1h-2zM568 285h2v1h-2zM574 280h2v1h-2zM576 279h2v1h-2zM579 277h2v1h-2zM584 273h2v1h-2zM662 185h2v1h-2zM666 182h2v1h-2zM670 179h2v1h-2zM674 176h2v1h-2zM678 173h2v1h-2zM680 172h2v1h-2zM683 170h2v1h-2zM710 144h2v1h-2zM714 141h2v1h-2zM720 136h2v1h-2zM726 131h2v1h-2zM730 128h2v1h-2zM736 123h2v1h-2zM752 108h2v1h-2zM757 104h2v1h-2zM759 103h2v1h-2zM761 102h2v1h-2zM763 101h2v1h-2zM765 100h2v1h-2zM767 99h3v1h-3zM770 98h2v1h-2zM772 97h3v1h-3zM775 96h2v1h-2zM777 95h2v1h-2zM779 94h2v1h-2zM781 93h3v1h-3zM784 92h4v1h-4zM788 91h6v1h-6zM794 92h6v1h-6zM800 93h4v1h-4zM804 94h4v1h-4zM808 95h4v1h-4zM812 96h6v1h-6zM818 97h14v1h-14zM832 96h4v1h-4zM836 95h4v1h-4zM840 94h4v1h-4zM844 93h4v1h-4zM848 92h4v1h-4zM852 91h6v1h-6zM858 90h8v1h-8zM866 89h32v1h-32zM898 90h8v1h-8zM906 91h8v1h-8zM914 92h16v1h-16zM930 93h5v1h-5zM935 94h2v1h-2zM937 95h2v1h-2zM939 96h2v1h-2zM942 98h2v1h-2zM944 99h2v1h-2zM947 101h2v1h-2zM949 102h3v1h-3zM952 103h4v1h-4zM956 104h6v1h-6zM962 105h6v1h-6zM968 106h4v1h-4zM972 107h2v1h-2zM974 108h2v1h-2zM978 111h2v1h-2zM1141 364h2v1h-2zM1143 365h2v1h-2zM1145 366h2v1h-2zM1147 367h2v1h-2zM1149 368h5v1h-5zM1154 367h14v1h-14zM1168 368h4v1h-4zM1172 369h3v1h-3zM1175 370h3v1h-3zM1178 371h2v1h-2zM1180 372h6v1h-6zM1186 373h6v1h-6zM1192 372h4v1h-4zM1196 371h6v1h-6zM1202 370h8v1h-8zM1210 369h6v1h-6zM1216 370h4v1h-4zM1220 371h4v1h-4zM1224 372h4v1h-4zM1228 373h14v1h-14zM1242 372h8v1h-8zM1250 371h8v1h-8zM1258 370h6v1h-6zM1264 371h4v1h-4zM1268 372h3v1h-3zM1271 373h3v1h-3zM1274 374h2v1h-2zM1276 375h3v1h-3zM1279 376h3v1h-3zM1282 377h2v1h-2zM1284 378h3v1h-3zM1287 379h3v1h-3zM1290 380h2v1h-2zM1292 381h12v1h-12zM1304 382h4v1h-4zM1308 383h4v1h-4zM1312 384h4v1h-4zM1316 385h2v1h-2zM1318 386h2v1h-2zM1320 387h2v1h-2zM1323 389h2v1h-2zM1326 391h2v1h-2zM1328 392h2v1h-2zM1331 394h2v1h-2zM5 402v1h1v-1zM6 401v1h1v-1zM7 400v1h1v-1zM8 399v1h1v-1zM9 397v2h1v-2zM10 396v1h1v-1zM11 395v1h1v-1zM12 394v1h1v-1zM13 393v1h1v-1zM16 391v1h1v-1zM17 390v1h1v-1zM20 388v1h1v-1zM21 387v1h1v-1zM26 384v1h1v-1zM210 359v1h1v-1zM354 395v1h1v-1zM357 397v1h1v-1zM362 400v1h1v-1zM472 389v1h1v-1zM473 388v1h1v-1zM476 386v1h1v-1zM477 385v1h1v-1zM480 383v1h1v-1zM481 382v1h1v-1zM484 380v1h1v-1zM485 379v1h1v-1zM488 377v1h1v-1zM489 376v1h1v-1zM492 374v1h1v-1zM493 373v1h1v-1zM494 372v1h1v-1zM495 371v1h1v-1zM496 370v1h1v-1zM497 369v1h1v-1zM498 368v1h1v-1zM499 367v1h1v-1zM500 366v1h1v-1zM501 365v1h1v-1zM502 364v1h1v-1zM503 363v1h1v-1zM504 362v1h1v-1zM505 360v2h1v-2zM506 359v1h1v-1zM507 358v1h1v-1zM508 357v1h1v-1zM509 356v1h1v-1zM510 355v1h1v-1zM511 353v2h1v-2zM512 352v1h1v-1zM513 351v1h1v-1zM514 350v1h1v-1zM515 348v2h1v-2zM516 347v1h1v-1zM517 346v1h1v-1zM518 345v1h1v-1zM519 343v2h1v-2zM520 342v1h1v-1zM521 341v1h1v-1zM522 340v1h1v-1zM523 338v2h1v-2zM524 337v1h1v-1zM525 336v1h1v-1zM526 335v1h1v-1zM527 334v1h1v-1zM528 333v1h1v-1zM529 331v2h1v-2zM530 330v1h1v-1zM531 329v1h1v-1zM532 328v1h1v-1zM533 327v1h1v-1zM534 326v1h1v-1zM535 324v2h1v-2zM536 323v1h1v-1zM537 322v1h1v-1zM538 321v1h1v-1zM539 319v2h1v-2zM540 318v1h1v-1zM541 317v1h1v-1zM542 316v1h1v-1zM543 315v1h1v-1zM544 314v1h1v-1zM545 312v2h1v-2zM546 311v1h1v-1zM547 310v1h1v-1zM548 309v1h1v-1zM549 308v1h1v-1zM550 306v2h1v-2zM551 305v1h1v-1zM552 304v1h1v-1zM553 302v2h1v-2zM554 301v1h1v-1zM555 300v1h1v-1zM556 298v2h1v-2zM557 297v1h1v-1zM558 296v1h1v-1zM559 295v1h1v-1zM560 294v1h1v-1zM561 292v2h1v-2zM562 291v1h1v-1zM563 290v1h1v-1zM564 289v1h1v-1zM565 288v1h1v-1zM566 287v1h1v-1zM567 286v1h1v-1zM570 284v1h1v-1zM571 283v1h1v-1zM572 282v1h1v-1zM573 281v1h1v-1zM578 278v1h1v-1zM581 276v1h1v-1zM582 275v1h1v-1zM583 274v1h1v-1zM586 272v1h1v-1zM587 271v1h1v-1zM588 270v1h1v-1zM589 269v1h1v-1zM590 267v2h1v-2zM591 266v1h1v-1zM592 265v1h1v-1zM593 263v2h1v-2zM594 262v1h1v-1zM595 261v1h1v-1zM596 259v2h1v-2zM597 258v1h1v-1zM598 257v1h1v-1zM599 255v2h1v-2zM600 254v1h1v-1zM601 253v1h1v-1zM602 252v1h1v-1zM603 250v2h1v-2zM604 249v1h1v-1zM605 248v1h1v-1zM606 247v1h1v-1zM607 245v2h1v-2zM608 244v1h1v-1zM609 243v1h1v-1zM610 242v1h1v-1zM611 240v2h1v-2zM612 239v1h1v-1zM613 238v1h1v-1zM614 237v1h1v-1zM615 236v1h1v-1zM616 235v1h1v-1zM617 233v2h1v-2zM618 232v1h1v-1zM619 231v1h1v-1zM620 230v1h1v-1zM621 229v1h1v-1zM622 228v1h1v-1zM623 227v1h1v-1zM624 226v1h1v-1zM625 225v1h1v-1zM626 224v1h1v-1zM627 223v1h1v-1zM628 222v1h1v-1zM629 221v1h1v-1zM630 220v1h1v-1zM631 219v1h1v-1zM632 218v1h1v-1zM633 216v2h1v-2zM634 215v1h1v-1zM635 214v1h1v-1zM636 213v1h1v-1zM637 212v1h1v-1zM638 211v1h1v-1zM639 210v1h1v-1zM640 209v1h1v-1zM641 208v1h1v-1zM642 207v1h1v-1zM643 206v1h1v-1zM644 205v1h1v-1zM645 204v1h1v-1zM646 203v1h1v-1zM647 202v1h1v-1zM648 201v1h1v-1zM649 199v2h1v-2zM650 198v1h1v-1zM651 197v1h1v-1zM652 196v1h1v-1zM653 195v1h1v-1zM654 194v1h1v-1zM655 193v1h1v-1zM656 192v1h1v-1zM657 190v2h1v-2zM658 189v1h1v-1zM659 188v1h1v-1zM660 187v1h1v-1zM661 186v1h1v-1zM664 184v1h1v-1zM665 183v1h1v-1zM668 181v1h1v-1zM669 180v1h1v-1zM672 178v1h1v-1zM673 177v1h1v-1zM676 175v1h1v-1zM677 174v1h1v-1zM682 171v1h1v-1zM685 169v1h1v-1zM686 168v1h1v-1zM687 167v1h1v-1zM688 166v1h1v-1zM689 165v1h1v-1zM690 164v1h1v-1zM691 163v1h1v-1zM692 162v1h1v-1zM693 161v1h1v-1zM694 160v1h1v-1zM695 159v1h1v-1zM696 158v1h1v-1zM697 157v1h1v-1zM698 156v1h1v-1zM699 155v1h1v-1zM700 154v1h1v-1zM701 153v1h1v-1zM702 152v1h1v-1zM703 151v1h1v-1zM704 150v1h1v-1zM705 149v1h1v-1zM706 148v1h1v-1zM707 147v1h1v-1zM708 146v1h1v-1zM709 145v1h1v-1zM712 143v1h1v-1zM713 142v1h1v-1zM716 140v1h1v-1zM717 139v1h1v-1zM718 138v1h1v-1zM719 137v1h1v-1zM722 135v1h1v-1zM723 134v1h1v-1zM724 133v1h1v-1zM725 132v1h1v-1zM728 130v1h1v-1zM729 129v1h1v-1zM732 127v1h1v-1zM733 126v1h1v-1zM734 125v1h1v-1zM735 124v1h1v-1zM738 122v1h1v-1zM739 121v1h1v-1zM740 120v1h1v-1zM741 119v1h1v-1zM742 118v1h1v-1zM743 117v1h1v-1zM744 116v1h1v-1zM745 115v1h1v-1zM746 114v1h1v-1zM747 113v1h1v-1zM748 112v1h1v-1zM749 111v1h1v-1zM750 110v1h1v-1zM751 109v1h1v-1zM754 107v1h1v-1zM755 106v1h1v-1zM756 105v1h1v-1zM941 97v1h1v-1zM946 100v1h1v-1zM976 109v1h1v-1zM977 110v1h1v-1zM980 112v1h1v-1zM981 113v1h1v-1zM982 114v1h1v-1zM983 115v1h1v-1zM984 116v1h1v-1zM985 117v2h1v-2zM986 119v1h1v-1zM987 120v1h1v-1zM988 121v1h1v-1zM989 122v1h1v-1zM990 123v2h1v-2zM991 125v1h1v-1zM992 126v2h1v-2zM993 128v1h1v-1zM994 129v2h1v-2zM995 131v1h1v-1zM996 132v2h1v-2zM997 134v1h1v-1zM998 135v2h1v-2zM999 137v1h1v-1zM1000 138v1h1v-1zM1001 139v2h1v-2zM1002 141v1h1v-1zM1003 142v1h1v-1zM1004 143v2h1v-2zM1005 145v1h1v-1zM1006 146v1h1v-1zM1007 147v2h1v-2zM1008 149v1h1v-1zM1009 150v1h1v-1zM1010 151v1h1v-1zM1011 152v2h1v-2zM1012 154v1h1v-1zM1013 155v1h1v-1zM1014 156v2h1v-2zM1015 158v2h1v-2zM1016 160v2h1v-2zM1017 162v1h1v-1zM1018 163v2h1v-2zM1019 165v2h1v-2zM1020 167v2h1v-2zM1021 169v2h1v-2zM1022 171v2h1v-2zM1023 173v2h1v-2zM1024 175v2h1v-2zM1025 177v2h1v-2zM1026 179v2h1v-2zM1027 181v2h1v-2zM1028 183v2h1v-2zM1029 185v1h1v-1zM1030 186v2h1v-2zM1031 188v2h1v-2zM1032 190v2h1v-2zM1033 192v2h1v-2zM1034 194v2h1v-2zM1035 196v2h1v-2zM1036 198v2h1v-2zM1037 200v1h1v-1zM1038 201v2h1v-2zM1039 203v2h1v-2zM1040 205v2h1v-2zM1041 207v1h1v-1zM1042 208v2h1v-2zM1043 210v2h1v-2zM1044 212v2h1v-2zM1045 214v1h1v-1zM1046 215v2h1v-2zM1047 217v2h1v-2zM1048 219v1h1v-1zM1049 220v2h1v-2zM1050 222v1h1v-1zM1051 223v2h1v-2zM1052 225v2h1v-2zM1053 227v1h1v-1zM1054 228v2h1v-2zM1055 230v1h1v-1zM1056 231v2h1v-2zM1057 233v1h1v-1zM1058 234v2h1v-2zM1059 236v1h1v-1zM1060 237v2h1v-2zM1061 239v1h1v-1zM1062 240v2h1v-2zM1063 242v2h1v-2zM1064 244v2h1v-2zM1065 246v2h1v-2zM1066 248v2h1v-2zM1067 250v2h1v-2zM1068 252v2h1v-2zM1069 254v2h1v-2zM1070 256v2h1v-2zM1071 258v2h1v-2zM1072 260v2h1v-2zM1073 262v2h1v-2zM1074 264v2h1v-2zM1075 266v2h1v-2zM1076 268v2h1v-2zM1077 270v1h1v-1zM1078 271v2h1v-2zM1079 273v2h1v-2zM1080 275v2h1v-2zM1081 277v1h1v-1zM1082 278v2h1v-2zM1083 280v2h1v-2zM1084 282v2h1v-2zM1085 284v1h1v-1zM1086 285v2h1v-2zM1087 287v2h1v-2zM1088 289v2h1v-2zM1089 291v1h1v-1zM1090 292v2h1v-2zM1091 294v2h1v-2zM1092 296v2h1v-2zM1093 298v1h1v-1zM1094 299v2h1v-2zM1095 301v1h1v-1zM1096 302v2h1v-2zM1097 304v1h1v-1zM1098 305v2h1v-2zM1099 307v1h1v-1zM1100 308v2h1v-2zM1101 310v1h1v-1zM1102 311v2h1v-2zM1103 313v1h1v-1zM1104 314v2h1v-2zM1105 316v1h1v-1zM1106 317v2h1v-2zM1107 319v1h1v-1zM1108 320v2h1v-2zM1109 322v1h1v-1zM1110 323v2h1v-2zM1111 325v1h1v-1zM1112 326v1h1v-1zM1113 327v2h1v-2zM1114 329v1h1v-1zM1115 330v1h1v-1zM1116 331v2h1v-2zM1117 333v1h1v-1zM1118 334v2h1v-2zM1119 336v1h1v-1zM1120 337v1h1v-1zM1121 338v2h1v-2zM1122 340v1h1v-1zM1123 341v1h1v-1zM1124 342v2h1v-2zM1125 344v1h1v-1zM1126 345v1h1v-1zM1127 346v2h1v-2zM1128 348v1h1v-1zM1129 349v1h1v-1zM1130 350v1h1v-1zM1131 351v2h1v-2zM1132 353v1h1v-1zM1133 354v1h1v-1zM1134 355v1h1v-1zM1135 356v2h1v-2zM1136 358v1h1v-1zM1137 359v1h1v-1zM1138 360v1h1v-1zM1139 361v2h1v-2zM1140 363v1h1v-1zM1322 388v1h1v-1zM1325 390v1h1v-1zM1330 393v1h1v-1z" fill="#ffa500" shape-rendering="crispEdges"/>
<g shape-rendering="crispEdges">
<rect x="5" y="280" width="1680" height="2" fill="#ff0000"/>
<rect x="5" y="341" width="1680" height="2" fill="#ff0000"/>
<rect x="5" y="402" width="1680" height="2" fill="#32cd32"/>
</g>
<g shape-rendering="crispEdges">
<rect x="5" y="577" width="1" height="25" fill="#c0c0c0"/>
<rect x="13" y="575" width="1" height="27" fill="#c0c0c0"/>
<rect x="21" y="572" width="1" height="30" fill="#c0c0c0"/>
<rect x="29" y="570" width="1" height="32" fill="#c0c0c0"/>
<rect x="37" y="568" width="1" height="34" fill="#c0c0c0"/>
<rect x="45" y="569" width="1" height="33" fill="#c0c0c0"/>
<rect x="53" y="571" width="1" height="31" fill="#c0c0c0"/>
<rect x="61" y="572" width="1" height="30" fill="#c0c0c0"/>
<rect x="69" y="578" width="1" height="24" fill="#c0c0c0"/>
<rect x="77" y="581" width="1" height="21" fill="#c0c0c0"/>
<rect x="85" y="584" width="1" height="18" fill="#c0c0c0"/>
<rect x="93" y="589" width="1" height="13" fill="#c0c0c0"/>
<rect x="101" y="593" width="1" height="9" fill="#c0c0c0"/>
<rect x="109" y="595" width="1" height="7" fill="#c0c0c0"/>
<rect x="117" y="595" width="1" height="7" fill="#c0c0c0"/>
<rect x="125" y="594" width="1" height="8" fill="#c0c0c0"/>
<rect x="133" y="594" width="1" height="8" fill="#c0c0c0"/>
<rect x="141" y="593" width="1" height="9" fill="#c0c0c0"/>
<rect x="149" y="591" width="1" height="11" fill="#c0c0c0"/>
<rect x="157" y="590" width="1" height="12" fill="#c0c0c0"/>
<rect x="165" y="590" width="1" height="12" fill="#c0c0c0"/>
<rect x="173" y="591" width="1" height="11" fill="#c0c0c0"/>
<rect x="181" y="592" width="1" height="10" fill="#c0c0c0"/>
<rect x="189" y="592" width="1" height="10" fill="#c0c0c0"/>
<rect x="197" y="594" width="1" height="8" fill="#c0c0c0"/>
<rect x="205" y="596" width="1" height="6" fill="#c0c0c0"/>
<rect x="213" y="601" width="1" height="2" fill="#c0c0c0"/>
<rect x="221" y="601" width="1" height="6" fill="#c0c0c0"/>
<rect x="229" y="601" width="1" height="10" fill="#c0c0c0"/>
<rect x="237" y="601" width="1" height="12" fill="#c0c0c0"/>
<rect x="245" y="601" width="1" height="14" fill="#c0c0c0"/>
<rect x="253" y="601" width="1" height="13" fill="#c0c0c0"/>
<rect x="261" y="601" width="1" height="10" fill="#c0c0c0"/>
<rect x="269" y="601" width="1" height="9" fill="#c0c0c0"/>
<rect x="277" y="601" width="1" height="7" fill="#c0c0c0"/>
<rect x="285" y="601" width="1" height="6" fill="#c0c0c0"/>
<rect x="293" y="601" width="1" height="5" fill="#c0c0c0"/>
<rect x="301" y="601" width="1" height="5" fill="#c0c0c0"/>
<rect x="309" y="601" width="1" height="5" fill="#c0c0c0"/>
<rect x="317" y="601" width="1" height="5" fill="#c0c0c0"/>
<rect x="325" y="601" width="1" height="5" fill="#c0c0c0"/>
<rect x="333" y="601" width="1" height="6" fill="#c0c0c0"/>
<rect x="341" y="601" width="1" height="9" fill="#c0c0c0"/>
<rect x="349" y="601" width="1" height="10" fill="#c0c0c0"/>
<rect x="357" y="601" width="1" height="18" fill="#c0c0c0"/>
<rect x="365" y="601" width="1" height="20" fill="#c0c0c0"/>
<rect x="373" y="601" width="1" height="20" fill="#c0c0c0"/>
<rect x="381" y="601" width="1" height="21" fill="#c0c0c0"/>
<rect x="389" y="601" width="1" height="21" fill="#c0c0c0"/>
<rect x="397" y="601" width="1" height="19" fill="#c0c0c0"/>
<rect x="405" y="601" width="1" height="13" fill="#c0c0c0"/>
<rect x="413" y="601" width="1" height="8" fill="#c0c0c0"/>
<rect x="421" y="601" width="1" height="4" fill="#c0c0c0"/>
<rect x="429" y="601" width="1" height="1" fill="#c0c0c0"/>
<rect x="437" y="599" width="1" height="3" fill="#c0c0c0"/>
<rect x="445" y="597" width="1" height="5" fill="#c0c0c0"/>
<rect x="453" y="590" width="1" height="12" fill="#c0c0c0"/>
<rect x="461" y="582" width="1" height="20" fill="#c0c0c0"/>
<rect x="469" y="576" width="1" height="26" fill="#c0c0c0"/>
<rect x="477" y="570" width="1" height="32" fill="#c0c0c0"/>
<rect x="485" y="567" width="1" height="35" fill="#c0c0c0"/>
<rect x="493" y="565" width="1" height="37" fill="#c0c0c0"/>
<rect x="501" y="562" width="1" height="40" fill="#c0c0c0"/>
<rect x="509" y="559" width="1" height="43" fill="#c0c0c0"/>
<rect x="517" y="557" width="1" height="45" fill="#c0c0c0"/>
<rect x="525" y="557" width="1" height="45" fill="#c0c0c0"/>
<rect x="533" y="558" width="1" height="44" fill="#c0c0c0"/>
<rect x="541" y="558" width="1" height="44" fill="#c0c0c0"/>
<rect x="549" y="558" width="1" height="44" fill="#c0c0c0"/>
<rect x="557" y="558" width="1" height="44" fill="#c0c0c0"/>
<rect x="565" y="558" width="1" height="44" fill="#c0c0c0"/>
<rect x="573" y="558" width="1" height="44" fill="#c0c0c0"/>
<rect x="581" y="561" width="1" height="41" fill="#c0c0c0"/>
<rect x="589" y="563" width="1" height="39" fill="#c0c0c0"/>
<rect x="597" y="556" width="1" height="46" fill="#c0c0c0"/>
<rect x="605" y="552" width="1" height="50" fill="#c0c0c0"/>
<rect x="613" y="549" width="1" height="53" fill="#c0c0c0"/>
<rect x="621" y="547" width="1" height="55" fill="#c0c0c0"/>
<rect x="629" y="543" width="1" height="59" fill="#c0c0c0"/>
<rect x="637" y="538" width="1" height="64" fill="#c0c0c0"/>
<rect x="645" y="536" width="1" height="66" fill="#c0c0c0"/>
<rect x="653" y="535" width="1" height="67" fill="#c0c0c0"/>
<rect x="661" y="535" width="1" height="67" fill="#c0c0c0"/>
<rect x="669" y="538" width="1" height="64" fill="#c0c0c0"/>
<rect x="677" y="541" width="1" height="61" fill="#c0c0c0"/>
<rect x="685" y="547" width="1" height="55" fill="#c0c0c0"/>
<rect x="693" y="547" width="1" height="55" fill="#c0c0c0"/>
<rect x="701" y="547" width="1" height="55" fill="#c0c0c0"/>
<rect x="709" y="547" width="1" height="55" fill="#c0c0c0"/>
<rect x="717" y="551" width="1" height="51" fill="#c0c0c0"/>
<rect x="725" y="553" width="1" height="49" fill="#c0c0c0"/>
<rect x="733" y="554" width="1" height="48" fill="#c0c0c0"/>
<rect x="741" y="557" width="1" height="45" fill="#c0c0c0"/>
<rect x="749" y="557" width="1" height="45" fill="#c0c0c0"/>
<rect x="757" y="559" width="1" height="43" fill="#c0c0c0"/>
<rect x="765" y="560" width="1" height="42" fill="#c0c0c0"/>
<rect x="773" y="562" width="1" height="40" fill="#c0c0c0"/>
<rect x="781" y="561" width="1" height="41" fill="#c0c0c0"/>
<rect x="789" y="565" width="1" height="37" fill="#c0c0c0"/>
<rect x="797" y="572" width="1" height="30" fill="#c0c0c0"/>
<rect x="805" y="578" width="1" height="24" fill="#c0c0c0"/>
<rect x="813" y="582" width="1" height="20" fill="#c0c0c0"/>
<rect x="821" y="585" width="1" height="17" fill="#c0c0c0"/>
<rect x="829" y="585" width="1" height="17" fill="#c0c0c0"/>
<rect x="837" y="585" width="1" height="17" fill="#c0c0c0"/>
<rect x="845" y="584" width="1" height="18" fill="#c0c0c0"/>
<rect x="853" y="583" width="1" height="19" fill="#c0c0c0"/>
<rect x="861" y="583" width="1" height="19" fill="#c0c0c0"/>
<rect x="869" y="583" width="1" height="19" fill="#c0c0c0"/>
<rect x="877" y="584" width="1" height="18" fill="#c0c0c0"/>
<rect x="885" y="586" width="1" height="16" fill="#c0c0c0"/>
<rect x="893" y="589" width="1" height="13" fill="#c0c0c0"/>
<rect x="901" y="591" width="1" height="11" fill="#c0c0c0"/>
<rect x="909" y="591" width="1" height="11" fill="#c0c0c0"/>
<rect x="917" y="593" width="1" height="9" fill="#c0c0c0"/>
<rect x="925" y="594" width="1" height="8" fill="#c0c0c0"/>
<rect x="933" y="595" width="1" height="7" fill="#c0c0c0"/>
<rect x="941" y="599" width="1" height="3" fill="#c0c0c0"/>
<rect x="949" y="601" width="1" height="3" fill="#c0c0c0"/>
<rect x="957" y="601" width="1" height="6" fill="#c0c0c0"/>
<rect x="965" y="601" width="1" height="10" fill="#c0c0c0"/>
<rect x="973" y="601" width="1" height="13" fill="#c0c0c0"/>
<rect x="981" y="601" width="1" height="25" fill="#c0c0c0"/>
<rect x="989" y="601" width="1" height="39" fill="#c0c0c0"/>
<rect x="997" y="601" width="1" height="47" fill="#c0c0c0"/>
<rect x="1005" y="601" width="1" height="54" fill="#c0c0c0"/>
<rect x="1013" y="601" width="1" height="59" fill="#c0c0c0"/>
<rect x="1021" y="601" width="1" height="67" fill="#c0c0c0"/>
<rect x="1029" y="601" width="1" height="75" fill="#c0c0c0"/>
<rect x="1037" y="601" width="1" height="80" fill="#c0c0c0"/>
<rect x="1045" y="601" width="1" height="82" fill="#c0c0c0"/>
<rect x="1053" y="601" width="1" height="82" fill="#c0c0c0"/>
<rect x="1061" y="601" width="1" height="80" fill="#c0c0c0"/>
<rect x="1069" y="601" width="1" height="81" fill="#c0c0c0"/>
<rect x="1077" y="601" width="1" height="81" fill="#c0c0c0"/>
<rect x="1085" y="601" width="1" height="80" fill="#c0c0c0"/>
<rect x="1093" y="601" width="1" height="77" fill="#c0c0c0"/>
<rect x="1101" y="601" width="1" height="73" fill="#c0c0c0"/>
<rect x="1109" y="601" width="1" height="69" fill="#c0c0c0"/>
<rect x="1117" y="601" width="1" height="65" fill="#c0c0c0"/>
<rect x="1125" y="601" width="1" height="62" fill="#c0c0c0"/>
<rect x="1133" y="601" width="1" height="60" fill="#c0c0c0"/>
<rect x="1141" y="601" width="1" height="55" fill="#c0c0c0"/>
<rect x="1149" y="601" width="1" height="50" fill="#c0c0c0"/>
<rect x="1157" y="601" width="1" height="41" fill="#c0c0c0"/>
<rect x="1165" y="601" width="1" height="32" fill="#c0c0c0"/>
<rect x="1173" y="601" width="1" height="30" fill="#c0c0c0"/>
<rect x="1181" y="601" width="1" height="31" fill="#c0c0c0"/>
<rect x="1189" y="601" width="1" height="29" fill="#c0c0c0"/>
<rect x="1197" y="601" width="1" height="28" fill="#c0c0c0"/>
<rect x="1205" y="601" width="1" height="26" fill="#c0c0c0"/>
<rect x="1213" y="601" width="1" height="25" fill="#c0c0c0"/>
<rect x="1221" y="601" width="1" height="27" fill="#c0c0c0"/>
<rect x="1229" y="601" width="1" height="29" fill="#c0c0c0"/>
<rect x="1237" y="601" width="1" height="29" fill="#c0c0c0"/>
<rect x="1245" y="601" width="1" height="28" fill="#c0c0c0"/>
<rect x="1253" y="601" width="1" height="25" fill="#c0c0c0"/>
<rect x="1261" y="601" width="1" height="23" fill="#c0c0c0"/>
<rect x="1269" y="601" width="1" height="24" fill="#c0c0c0"/>
<rect x="1277" y="601" width="1" height="27" fill="#c0c0c0"/>
<rect x="1285" y="601" width="1" height="31" fill="#c0c0c0"/>
<rect x="1293" y="601" width="1" height="32" fill="#c0c0c0"/>
<rect x="1301" y="601" width="1" height="29" fill="#c0c0c0"/>
<rect x="1309" y="601" width="1" height="27" fill="#c0c0c0"/>
<rect x="1317" y="601" width="1" height="24" fill="#c0c0c0"/>
<rect x="1325" y="601" width="1" height="24" fill="#c0c0c0"/>
<rect x="1333" y="601" width="1" height="23" fill="#c0c0c0"/>
</g>
<path d="M5 583h3v1h-3zM12 581h2v1h-2zM18 580h2v1h-2zM24 579h2v1h-2zM29 578h3v1h-3zM36 576h2v1h-2zM42 575h2v1h-2zM48 574h2v1h-2zM53 573h3v1h-3zM60 571h2v1h-2zM65 571h3v1h-3zM71 571h3v1h-3zM77 571h3v1h-3zM84 573h2v1h-2zM89 574h3v1h-3zM95 576h3v1h-3zM101 578h3v1h-3zM108 580h2v1h-2zM114 582h2v1h-2zM120 584h2v1h-2zM125 585h2v1h-2zM132 588h2v1h-2zM137 589h3v1h-3zM143 590h3v1h-3zM149 591h3v1h-3zM155 592h3v1h-3zM161 592h3v1h-3zM167 592h3v1h-3zM173 592h3v1h-3zM179 591h3v1h-3zM185 591h3v1h-3zM191 591h3v1h-3zM197 591h3v1h-3zM203 591h3v1h-3zM210 592h2v1h-2zM216 593h2v1h-2zM221 594h2v1h-2zM228 597h2v1h-2zM233 598h3v1h-3zM240 600h2v1h-2zM245 601h2v1h-2zM251 604h2v1h-2zM257 606h3v1h-3zM264 608h2v1h-2zM269 609h3v1h-3zM275 610h3v1h-3zM281 610h3v1h-3zM287 610h3v1h-3zM293 610h3v1h-3zM299 610h3v1h-3zM306 609h2v1h-2zM311 609h3v1h-3zM317 608h3v1h-3zM323 607h3v1h-3zM329 607h3v1h-3zM335 607h3v1h-3zM341 607h3v1h-3zM347 607h3v1h-3zM354 608h2v1h-2zM360 609h2v1h-2zM365 610h3v1h-3zM372 612h2v1h-2zM378 613h2v1h-2zM383 614h3v1h-3zM389 616h3v1h-3zM395 617h3v1h-3zM402 618h2v1h-2zM407 618h3v1h-3zM413 618h3v1h-3zM419 617h3v1h-3zM425 616h3v1h-3zM432 614h2v1h-2zM437 613h2v1h-2zM444 610h2v1h-2zM449 608h2v1h-2zM455 605h2v1h-2zM461 602h2v1h-2zM467 599h2v1h-2zM473 596h2v1h-2zM480 591h2v1h-2zM485 587h2v1h-2zM491 584h2v1h-2zM497 581h2v1h-2zM509 573h2v1h-2zM515 570h2v1h-2zM521 567h2v1h-2zM528 564h2v1h-2zM533 563h3v1h-3zM540 561h2v1h-2zM545 560h3v1h-3zM551 559h3v1h-3zM557 558h3v1h-3zM563 557h3v1h-3zM569 557h3v1h-3zM575 557h3v1h-3zM581 557h3v1h-3zM587 558h3v1h-3zM593 558h3v1h-3zM599 558h3v1h-3zM605 557h3v1h-3zM611 556h3v1h-3zM618 555h2v1h-2zM623 555h3v1h-3zM629 554h2v1h-2zM636 551h2v1h-2zM641 550h3v1h-3zM648 548h2v1h-2zM654 546h2v1h-2zM659 543h2v1h-2zM665 541h3v1h-3zM671 540h3v1h-3zM677 539h3v1h-3zM683 539h3v1h-3zM689 539h3v1h-3zM695 539h3v1h-3zM701 540h3v1h-3zM707 541h3v1h-3zM713 542h3v1h-3zM719 543h3v1h-3zM725 544h3v1h-3zM732 546h2v1h-2zM738 547h2v1h-2zM743 548h3v1h-3zM749 550h3v1h-3zM756 552h2v1h-2zM762 553h2v1h-2zM768 554h2v1h-2zM773 555h3v1h-3zM779 556h3v1h-3zM786 557h2v1h-2zM791 558h3v1h-3zM797 560h3v1h-3zM804 562h2v1h-2zM810 564h2v1h-2zM816 566h2v1h-2zM821 567h2v1h-2zM827 570h2v1h-2zM834 573h2v1h-2zM840 575h2v1h-2zM845 576h2v1h-2zM852 579h2v1h-2zM857 580h3v1h-3zM863 581h3v1h-3zM869 582h3v1h-3zM875 583h3v1h-3zM881 583h3v1h-3zM887 583h3v1h-3zM893 584h3v1h-3zM899 584h3v1h-3zM906 585h2v1h-2zM911 585h3v1h-3zM917 586h3v1h-3zM923 587h3v1h-3zM930 588h2v1h-2zM936 589h2v1h-2zM941 590h2v1h-2zM948 593h2v1h-2zM953 594h3v1h-3zM960 596h2v1h-2zM965 597h2v1h-2zM972 600h2v1h-2zM978 602h2v1h-2zM984 606h2v1h-2zM990 611h2v1h-2zM995 614h2v1h-2zM1008 625h2v1h-2zM1050 663h2v1h-2zM1056 667h2v1h-2zM1061 670h2v1h-2zM1067 673h2v1h-2zM1074 676h2v1h-2zM1079 678h3v1h-3zM1085 680h3v1h-3zM1091 681h3v1h-3zM1097 681h3v1h-3zM1104 680h2v1h-2zM1109 679h3v1h-3zM1115 678h3v1h-3zM1122 676h2v1h-2zM1128 674h2v1h-2zM1133 673h2v1h-2zM1139 670h2v1h-2zM1145 668h3v1h-3zM1157 661h2v1h-2zM1163 658h2v1h-2zM1169 655h2v1h-2zM1175 652h2v1h-2zM1181 649h2v1h-2zM1187 646h2v1h-2zM1193 643h2v1h-2zM1199 640h3v1h-3zM1205 638h2v1h-2zM1211 635h2v1h-2zM1217 632h2v1h-2zM1223 630h3v1h-3zM1229 629h3v1h-3zM1235 629h3v1h-3zM1241 629h3v1h-3zM1247 629h3v1h-3zM1253 628h3v1h-3zM1259 628h3v1h-3zM1266 627h2v1h-2zM1271 627h3v1h-3zM1277 627h3v1h-3zM1283 628h3v1h-3zM1289 628h3v1h-3zM1295 628h3v1h-3zM1301 629h3v1h-3zM1307 628h3v1h-3zM1313 628h3v1h-3zM1319 628h3v1h-3zM1325 628h3v1h-3zM1331 628h2v1h-2zM11 582v1h1v-1zM17 581v1h1v-1zM23 580v1h1v-1zM35 577v1h1v-1zM41 576v1h1v-1zM47 575v1h1v-1zM59 572v1h1v-1zM83 572v1h1v-1zM107 579v1h1v-1zM113 581v1h1v-1zM119 583v1h1v-1zM127 586v1h1v-1zM131 587v1h1v-1zM209 591v1h1v-1zM215 592v1h1v-1zM223 595v1h1v-1zM227 596v1h1v-1zM239 599v1h1v-1zM247 602v1h1v-1zM253 605v1h1v-1zM263 607v1h1v-1zM305 610v1h1v-1zM353 607v1h1v-1zM359 608v1h1v-1zM371 611v1h1v-1zM377 612v1h1v-1zM401 617v1h1v-1zM431 615v1h1v-1zM439 612v1h1v-1zM443 611v1h1v-1zM451 607v1h1v-1zM457 604v1h1v-1zM463 601v1h1v-1zM469 598v1h1v-1zM475 595v1h1v-1zM479 592v1h1v-1zM487 586v1h1v-1zM493 583v1h1v-1zM499 580v1h1v-1zM503 578v1h1v-1zM504 577v1h1v-1zM505 576v1h1v-1zM511 572v1h1v-1zM517 569v1h1v-1zM523 566v1h1v-1zM527 565v1h1v-1zM539 562v1h1v-1zM617 556v1h1v-1zM631 553v1h1v-1zM635 552v1h1v-1zM647 549v1h1v-1zM653 547v1h1v-1zM661 542v1h1v-1zM731 545v1h1v-1zM737 546v1h1v-1zM755 551v1h1v-1zM761 552v1h1v-1zM767 553v1h1v-1zM785 556v1h1v-1zM803 561v1h1v-1zM809 563v1h1v-1zM815 565v1h1v-1zM823 568v1h1v-1zM829 571v1h1v-1zM833 572v1h1v-1zM839 574v1h1v-1zM847 577v1h1v-1zM851 578v1h1v-1zM905 584v1h1v-1zM929 587v1h1v-1zM935 588v1h1v-1zM943 591v1h1v-1zM947 592v1h1v-1zM959 595v1h1v-1zM967 598v1h1v-1zM971 599v1h1v-1zM977 601v1h1v-1zM983 605v1h1v-1zM989 610v1h1v-1zM997 615v1h1v-1zM1001 618v1h1v-1zM1002 619v1h1v-1zM1003 620v1h1v-1zM1007 624v1h1v-1zM1013 629v1h1v-1zM1014 630v1h1v-1zM1015 631v1h1v-1zM1019 634v1h1v-1zM1020 635v1h1v-1zM1021 636v1h1v-1zM1025 639v1h1v-1zM1026 640v1h1v-1zM1027 641v1h1v-1zM1031 645v1h1v-1zM1032 646v1h1v-1zM1033 647v1h1v-1zM1037 651v1h1v-1zM1038 652v1h1v-1zM1039 653v1h1v-1zM1043 657v1h1v-1zM1044 658v1h1v-1zM1045 659v1h1v-1zM1049 662v1h1v-1zM1055 666v1h1v-1zM1063 671v1h1v-1zM1069 674v1h1v-1zM1073 675v1h1v-1zM1103 681v1h1v-1zM1121 677v1h1v-1zM1127 675v1h1v-1zM1135 672v1h1v-1zM1141 669v1h1v-1zM1151 666v1h1v-1zM1152 665v1h1v-1zM1153 664v1h1v-1zM1159 660v1h1v-1zM1165 657v1h1v-1zM1171 654v1h1v-1zM1177 651v1h1v-1zM1183 648v1h1v-1zM1189 645v1h1v-1zM1195 642v1h1v-1zM1207 637v1h1v-1zM1213 634v1h1v-1zM1219 631v1h1v-1zM1265 628v1h1v-1z" fill="#ff0000" shape-rendering="crispEdges"/>
<g shape-rendering="crispEdges">
<path d="M6 731h3v1h-3zM12 731h3v1h-3zM18 731h3v1h-3zM24 731h3v1h-3zM30 731h3v1h-3zM36 731h3v1h-3zM42 731h3v1h-3zM48 731h3v1h-3zM54 731h3v1h-3zM60 731h3v1h-3zM66 731h3v1h-3zM72 731h3v1h-3zM78 731h3v1h-3zM84 731h3v1h-3zM90 731h3v1h-3zM96 731h3v1h-3zM102 731h3v1h-3zM108 731h3v1h-3zM114 731h3v1h-3zM120 731h3v1h-3zM126 731h3v1h-3zM132 731h3v1h-3zM138 731h3v1h-3zM144 731h3v1h-3zM150 731h3v1h-3zM156 731h3v1h-3zM162 731h3v1h-3zM168 731h3v1h-3zM174 731h3v1h-3zM180 731h3v1h-3zM186 731h3v1h-3zM192 731h3v1h-3zM198 731h3v1h-3zM204 731h3v1h-3zM210 731h3v1h-3zM216 731h3v1h-3zM222 731h3v1h-3zM228 731h3v1h-3zM234 731h3v1h-3zM240 731h3v1h-3zM246 731h3v1h-3zM252 731h3v1h-3zM258 731h3v1h-3zM264 731h3v1h-3zM270 731h3v1h-3zM276 731h3v1h-3zM282 731h3v1h-3zM288 731h3v1h-3zM294 731h3v1h-3zM300 731h3v1h-3zM306 731h3v1h-3zM312 731h3v1h-3zM318 731h3v1h-3zM324 731h3v1h-3zM330 731h3v1h-3zM336 731h3v1h-3zM342 731h3v1h-3zM348 731h3v1h-3zM354 731h3v1h-3zM360 731h3v1h-3zM366 731h3v1h-3zM372 731h3v1h-3zM378 731h3v1h-3zM384 731h3v1h-3zM390 731h3v1h-3zM396 731h3v1h-3zM402 731h3v1h-3zM408 731h3v1h-3zM414 731h3v1h-3zM420 731h3v1h-3zM426 731h3v1h-3zM432 731h3v1h-3zM438 731h3v1h-3zM444 731h3v1h-3zM450 731h3v1h-3zM456 731h3v1h-3zM462 731h3v1h-3zM468 731h3v1h-3zM474 731h3v1h-3zM480 731h3v1h-3zM486 731h3v1h-3zM492 731h3v1h-3zM498 731h3v1h-3zM504 731h3v1h-3zM510 731h3v1h-3zM516 731h3v1h-3zM522 731h3v1h-3zM528 731h3v1h-3zM534 731h3v1h-3zM540 731h3v1h-3zM546 731h3v1h-3zM552 731h3v1h-3zM558 731h3v1h-3zM564 731h3v1h-3zM570 731h3v1h-3zM576 731h3v1h-3zM582 731h3v1h-3zM588 731h3v1h-3zM594 731h3v1h-3zM600 731h3v1h-3zM606 731h3v1h-3zM612 731h3v1h-3zM618 731h3v1h-3zM624 731h3v1h-3zM630 731h3v1h-3zM636 731h3v1h-3zM642 731h3v1h-3zM648 731h3v1h-3zM654 731h3v1h-3zM660 731h3v1h-3zM666 731h3v1h-3zM672 731h3v1h-3zM678 731h3v1h-3zM684 731h3v1h-3zM690 731h3v1h-3zM696 731h3v1h-3zM702 731h3v1h-3zM708 731h3v1h-3zM714 731h3v1h-3zM720 731h3v1h-3zM726 731h3v1h-3zM732 731h3v1h-3zM738 731h3v1h-3zM744 731h3v1h-3zM750 731h3v1h-3zM756 731h3v1h-3zM762 731h3v1h-3zM768 731h3v1h-3zM774 731h3v1h-3zM780 731h3v1h-3zM786 731h3v1h-3zM792 731h3v1h-3zM798 731h3v1h-3zM804 731h3v1h-3zM810 731h3v1h-3zM816 731h3v1h-3zM822 731h3v1h-3zM828 731h3v1h-3zM834 731h3v1h-3zM840 731h3v1h-3zM846 731h3v1h-3zM852 731h3v1h-3zM858 731h3v1h-3zM864 731h3v1h-3zM870 731h3v1h-3zM876 731h3v1h-3zM882 731h3v1h-3zM888 731h3v1h-3zM894 731h3v1h-3zM900 731h3v1h-3zM906 731h3v1h-3zM912 731h3v1h-3zM918 731h3v1h-3zM924 731h3v1h-3zM930 731h3v1h-3zM936 731h3v1h-3zM942 731h3v1h-3zM948 731h3v1h-3zM954 731h3v1h-3zM960 731h3v1h-3zM966 731h3v1h-3zM972 731h3v1h-3zM978 731h3v1h-3zM984 731h3v1h-3zM990 731h3v1h-3zM996 731h3v1h-3zM1002 731h3v1h-3zM1008 731h3v1h-3zM1014 731h3v1h-3zM1020 731h3v1h-3zM1026 731h3v1h-3zM1032 731h3v1h-3zM1038 731h3v1h-3zM1044 731h3v1h-3zM1050 731h3v1h-3zM1056 731h3v1h-3zM1062 731h3v1h-3zM1068 731h3v1h-3zM1074 731h3v1h-3zM1080 731h3v1h-3zM1086 731h3v1h-3zM1092 731h3v1h-3zM1098 731h3v1h-3zM1104 731h3v1h-3zM1110 731h3v1h-3zM1116 731h3v1h-3zM1122 731h3v1h-3zM1128 731h3v1h-3zM1134 731h3v1h-3zM1140 731h3v1h-3zM1146 731h3v1h-3zM1152 731h3v1h-3zM1158 731h3v1h-3zM1164 731h3v1h-3zM1170 731h3v1h-3zM1176 731h3v1h-3zM1182 731h3v1h-3zM1188 731h3v1h-3zM1194 731h3v1h-3zM1200 731h3v1h-3zM1206 731h3v1h-3zM1212 731h3v1h-3zM1218 731h3v1h-3zM1224 731h3v1h-3zM1230 731h3v1h-3zM1236 731h3v1h-3zM1242 731h3v1h-3zM1248 731h3v1h-3zM1254 731h3v1h-3zM1260 731h3v1h-3zM1266 731h3v1h-3zM1272 731h3v1h-3zM1278 731h3v1h-3zM1284 731h3v1h-3zM1290 731h3v1h-3zM1296 731h3v1h-3zM1302 731h3v1h-3zM1308 731h3v1h-3zM1314 731h3v1h-3zM1320 731h3v1h-3zM1326 731h3v1h-3zM1332 731h3v1h-3zM1338 731h3v1h-3zM1344 731h3v1h-3zM1350 731h3v1h-3zM1356 731h3v1h-3zM1362 731h3v1h-3zM1368 731h3v1h-3zM1374 731h3v1h-3zM1380 731h3v1h-3zM1386 731h3v1h-3zM1392 731h3v1h-3zM1398 731h3v1h-3zM1404 731h3v1h-3zM1410 731h3v1h-3zM1416 731h3v1h-3zM1422 731h3v1h-3zM1428 731h3v1h-3zM1434 731h3v1h-3zM1440 731h3v1h-3zM1446 731h3v1h-3zM1452 731h3v1h-3zM1458 731h3v1h-3zM1464 731h3v1h-3zM1470 731h3v1h-3zM1476 731h3v1h-3zM1482 731h3v1h-3zM1488 731h3v1h-3zM1494 731h3v1h-3zM1500 731h3v1h-3zM1506 731h3v1h-3zM1512 731h3v1h-3zM1518 731h3v1h-3zM1524 731h3v1h-3zM1530 731h3v1h-3zM1536 731h3v1h-3zM1542 731h3v1h-3zM1548 731h3v1h-3zM1554 731h3v1h-3zM1560 731h3v1h-3zM1566 731h3v1h-3zM1572 731h3v1h-3zM1578 731h3v1h-3zM1584 731h3v1h-3zM1590 731h3v1h-3zM1596 731h3v1h-3zM1602 731h3v1h-3zM1608 731h3v1h-3zM1614 731h3v1h-3zM1620 731h3v1h-3zM1626 731h3v1h-3zM1632 731h3v1h-3zM1638 731h3v1h-3zM1644 731h3v1h-3zM1650 731h3v1h-3zM1656 731h3v1h-3zM1662 731h3v1h-3zM1668 731h3v1h-3zM1674 731h3v1h-3zM1680 731h3v1h-3zM6 780h3v1h-3zM12 780h3v1h-3zM18 780h3v1h-3zM24 780h3v1h-3zM30 780h3v1h-3zM36 780h3v1h-3zM42 780h3v1h-3zM48 780h3v1h-3zM54 780h3v1h-3zM60 780h3v1h-3zM66 780h3v1h-3zM72 780h3v1h-3zM78 780h3v1h-3zM84 780h3v1h-3zM90 780h3v1h-3zM96 780h3v1h-3zM102 780h3v1h-3zM108 780h3v1h-3zM114 780h3v1h-3zM120 780h3v1h-3zM126 780h3v1h-3zM132 780h3v1h-3zM138 780h3v1h-3zM144 780h3v1h-3zM150 780h3v1h-3zM156 780h3v1h-3zM162 780h3v1h-3zM168 780h3v1h-3zM174 780h3v1h-3zM180 780h3v1h-3zM186 780h3v1h-3zM192 780h3v1h-3zM198 780h3v1h-3zM204 780h3v1h-3zM210 780h3v1h-3zM216 780h3v1h-3zM222 780h3v1h-3zM228 780h3v1h-3zM234 780h3v1h-3zM240 780h3v1h-3zM246 780h3v1h-3zM252 780h3v1h-3zM258 780h3v1h-3zM264 780h3v1h-3zM270 780h3v1h-3zM276 780h3v1h-3zM282 780h3v1h-3zM288 780h3v1h-3zM294 780h3v1h-3zM300 780h3v1h-3zM306 780h3v1h-3zM312 780h3v1h-3zM318 780h3v1h-3zM324 780h3v1h-3zM330 780h3v1h-3zM336 780h3v1h-3zM342 780h3v1h-3zM348 780h3v1h-3zM354 780h3v1h-3zM360 780h3v1h-3zM366 780h3v1h-3zM372 780h3v1h-3zM378 780h3v1h-3zM384 780h3v1h-3zM390 780h3v1h-3zM396 780h3v1h-3zM402 780h3v1h-3zM408 780h3v1h-3zM414 780h3v1h-3zM420 780h3v1h-3zM426 780h3v1h-3zM432 780h3v1h-3zM438 780h3v1h-3zM444 780h3v1h-3zM450 780h3v1h-3zM456 780h3v1h-3zM462 780h3v1h-3zM468 780h3v1h-3zM474 780h3v1h-3zM480 780h3v1h-3zM486 780h3v1h-3zM492 780h3v1h-3zM498 780h3v1h-3zM504 780h3v1h-3zM510 780h3v1h-3zM516 780h3v1h-3zM522 780h3v1h-3zM528 780h3v1h-3zM534 780h3v1h-3zM540 780h3v1h-3zM546 780h3v1h-3zM552 780h3v1h-3zM558 780h3v1h-3zM564 780h3v1h-3zM570 780h3v1h-3zM576 780h3v1h-3zM582 780h3v1h-3zM588 780h3v1h-3zM594 780h3v1h-3zM600 780h3v1h-3zM606 780h3v1h-3zM612 780h3v1h-3zM618 780h3v1h-3zM624 780h3v1h-3zM630 780h3v1h-3zM636 780h3v1h-3zM642 780h3v1h-3zM648 780h3v1h-3zM654 780h3v1h-3zM660 780h3v1h-3zM666 780h3v1h-3zM672 780h3v1h-3zM678 780h3v1h-3zM684 780h3v1h-3zM690 780h3v1h-3zM696 780h3v1h-3zM702 780h3v1h-3zM708 780h3v1h-3zM714 780h3v1h-3zM720 780h3v1h-3zM726 780h3v1h-3zM732 780h3v1h-3zM738 780h3v1h-3zM744 780h3v1h-3zM750 780h3v1h-3zM756 780h3v1h-3zM762 780h3v1h-3zM768 780h3v1h-3zM774 780h3v1h-3zM780 780h3v1h-3zM786 780h3v1h-3zM792 780h3v1h-3zM798 780h3v1h-3zM804 780h3v1h-3zM810 780h3v1h-3zM816 780h3v1h-3zM822 780h3v1h-3zM828 780h3v1h-3zM834 780h3v1h-3zM840 780h3v1h-3zM846 780h3v1h-3zM852 780h3v1h-3zM858 780h3v1h-3zM864 780h3v1h-3zM870 780h3v1h-3zM876 780h3v1h-3zM882 780h3v1h-3zM888 780h3v1h-3zM894 780h3v1h-3zM900 780h3v1h-3zM906 780h3v1h-3zM912 780h3v1h-3zM918 780h3v1h-3zM924 780h3v1h-3zM930 780h3v1h-3zM936 780h3v1h-3zM942 780h3v1h-3zM948 780h3v1h-3zM954 780h3v1h-3zM960 780h3v1h-3zM966 780h3v1h-3zM972 780h3v1h-3zM978 780h3v1h-3zM984 780h3v1h-3zM990 780h3v1h-3zM996 780h3v1h-3zM1002 780h3v1h-3zM1008 780h3v1h-3zM1014 780h3v1h-3zM1020 780h3v1h-3zM1026 780h3v1h-3zM1032 780h3v1h-3zM1038 780h3v1h-3zM1044 780h3v1h-3zM1050 780h3v1h-3zM1056 780h3v1h-3zM1062 780h3v1h-3zM1068 780h3v1h-3zM1074 780h3v1h-3zM1080 780h3v1h-3zM1086 780h3v1h-3zM1092 780h3v1h-3zM1098 780h3v1h-3zM1104 780h3v1h-3zM1110 780h3v1h-3zM1116 780h3v1h-3zM1122 780h3v1h-3zM1128 780h3v1h-3zM1134 780h3v1h-3zM1140 780h3v1h-3zM1146 780h3v1h-3zM1152 780h3v1h-3zM1158 780h3v1h-3zM1164 780h3v1h-3zM1170 780h3v1h-3zM1176 780h3v1h-3zM1182 780h3v1h-3zM1188 780h3v1h-3zM1194 780h3v1h-3zM1200 780h3v1h-3zM1206 780h3v1h-3zM1212 780h3v1h-3zM1218 780h3v1h-3zM1224 780h3v1h-3zM1230 780h3v1h-3zM1236 780h3v1h-3zM1242 780h3v1h-3zM1248 780h3v1h-3zM1254 780h3v1h-3zM1260 780h3v1h-3zM1266 780h3v1h-3zM1272 780h3v1h-3zM1278 780h3v1h-3zM1284 780h3v1h-3zM1290 780h3v1h-3zM1296 780h3v1h-3zM1302 780h3v1h-3zM1308 780h3v1h-3zM1314 780h3v1h-3zM1320 780h3v1h-3zM1326 780h3v1h-3zM1332 780h3v1h-3zM1338 780h3v1h-3zM1344 780h3v1h-3zM1350 780h3v1h-3zM1356 780h3v1h-3zM1362 780h3v1h-3zM1368 780h3v1h-3zM1374 780h3v1h-3zM1380 780h3v1h-3zM1386 780h3v1h-3zM1392 780h3v1h-3zM1398 780h3v1h-3zM1404 780h3v1h-3zM1410 780h3v1h-3zM1416 780h3v1h-3zM1422 780h3v1h-3zM1428 780h3v1h-3zM1434 780h3v1h-3zM1440 780h3v1h-3zM1446 780h3v1h-3zM1452 780h3v1h-3zM1458 780h3v1h-3zM1464 780h3v1h-3zM1470 780h3v1h-3zM1476 780h3v1h-3zM1482 780h3v1h-3zM1488 780h3v1h-3zM1494 780h3v1h-3zM1500 780h3v1h-3zM1506 780h3v1h-3zM1512 780h3v1h-3zM1518 780h3v1h-3zM1524 780h3v1h-3zM1530 780h3v1h-3zM1536 780h3v1h-3zM1542 780h3v1h-3zM1548 780h3v1h-3zM1554 780h3v1h-3zM1560 780h3v1h-3zM1566 780h3v1h-3zM1572 780h3v1h-3zM1578 780h3v1h-3zM1584 780h3v1h-3zM1590 780h3v1h-3zM1596 780h3v1h-3zM1602 780h3v1h-3zM1608 780h3v1h-3zM1614 780h3v1h-3zM1620 780h3v1h-3zM1626 780h3v1h-3zM1632 780h3v1h-3zM1638 780h3v1h-3zM1644 780h3v1h-3zM1650 780h3v1h-3zM1656 780h3v1h-3zM1662 780h3v1h-3zM1668 780h3v1h-3zM1674 780h3v1h-3zM1680 780h3v1h-3z" fill="#c0c0c0"/>
</g>
<path d="M5 737h3v1h-3zM8 736h4v1h-4zM12 735h2v1h-2zM14 734h2v1h-2zM16 733h2v1h-2zM19 731h2v1h-2zM21 730h3v1h-3zM24 731h4v1h-4zM28 732h6v1h-6zM34 731h4v1h-4zM46 740h2v1h-2zM48 741h2v1h-2zM51 743h2v1h-2zM53 744h2v1h-2zM55 743h3v1h-3zM58 742h2v1h-2zM60 741h2v1h-2zM69 759h2v1h-2zM71 758h2v1h-2zM73 757h2v1h-2zM75 756h2v1h-2zM77 755h9v1h-9zM86 756h2v1h-2zM88 757h2v1h-2zM91 759h2v1h-2zM93 760h3v1h-3zM96 761h4v1h-4zM100 762h2v1h-2zM102 761h2v1h-2zM106 758h2v1h-2zM109 756h2v1h-2zM111 755h2v1h-2zM113 754h2v1h-2zM115 753h2v1h-2zM117 752h2v1h-2zM119 751h2v1h-2zM121 750h2v1h-2zM123 749h2v1h-2zM125 748h2v1h-2zM127 749h3v1h-3zM130 750h2v1h-2zM132 751h3v1h-3zM135 750h3v1h-3zM138 749h2v1h-2zM140 748h3v1h-3zM143 747h2v1h-2zM145 746h2v1h-2zM147 745h2v1h-2zM149 744h13v1h-13zM162 745h4v1h-4zM166 746h2v1h-2zM170 749h2v1h-2zM173 751h3v1h-3zM176 750h4v1h-4zM180 749h3v1h-3zM183 750h2v1h-2zM185 751h2v1h-2zM187 752h2v1h-2zM189 753h2v1h-2zM191 754h3v1h-3zM194 755h2v1h-2zM196 756h3v1h-3zM199 757h3v1h-3zM202 758h2v1h-2zM204 759h2v1h-2zM213 776h3v1h-3zM218 773h2v1h-2zM221 771h5v1h-5zM226 772h4v1h-4zM232 769h2v1h-2zM237 765h2v1h-2zM239 766h3v1h-3zM242 767h2v1h-2zM244 768h2v1h-2zM248 765h2v1h-2zM261 753h5v1h-5zM266 754h16v1h-16zM282 755h5v1h-5zM287 754h2v1h-2zM289 753h2v1h-2zM291 752h2v1h-2zM294 752h2v1h-2zM298 755h2v1h-2zM301 757h3v1h-3zM304 758h4v1h-4zM308 759h6v1h-6zM314 760h8v1h-8zM322 761h4v1h-4zM326 762h2v1h-2zM330 765h2v1h-2zM333 767h3v1h-3zM336 768h4v1h-4zM340 769h2v1h-2zM342 768h2v1h-2zM346 765h2v1h-2zM348 764h2v1h-2zM357 782h2v1h-2zM366 768h2v1h-2zM368 767h2v1h-2zM371 765h2v1h-2zM373 764h3v1h-3zM376 765h4v1h-4zM380 766h6v1h-6zM386 767h4v1h-4zM405 747h5v1h-5zM410 746h5v1h-5zM415 747h3v1h-3zM418 748h2v1h-2zM420 749h6v1h-6zM426 748h5v1h-5zM431 747h2v1h-2zM433 746h2v1h-2zM435 745h2v1h-2zM437 744h2v1h-2zM439 745h2v1h-2zM441 746h2v1h-2zM443 747h2v1h-2zM453 735h2v1h-2zM455 734h3v1h-3zM458 733h2v1h-2zM460 732h12v1h-12zM472 731h4v1h-4zM476 730h3v1h-3zM479 731h2v1h-2zM481 732h2v1h-2zM483 733h2v1h-2zM485 734h5v1h-5zM490 733h5v1h-5zM495 732h2v1h-2zM497 731h2v1h-2zM499 730h2v1h-2zM501 729h3v1h-3zM504 728h4v1h-4zM508 727h4v1h-4zM512 728h4v1h-4zM516 729h3v1h-3zM519 730h3v1h-3zM522 731h2v1h-2zM524 732h2v1h-2zM526 733h2v1h-2zM528 734h2v1h-2zM531 736h2v1h-2zM533 737h2v1h-2zM535 736h3v1h-3zM538 735h2v1h-2zM540 734h4v1h-4zM544 733h4v1h-4zM548 732h3v1h-3zM551 731h3v1h-3zM554 730h2v1h-2zM556 729h6v1h-6zM562 730h4v1h-4zM566 731h2v1h-2zM568 732h2v1h-2zM571 734h2v1h-2zM574 736h2v1h-2zM576 737h2v1h-2zM579 739h2v1h-2zM581 740h9v1h-9zM597 723h3v1h-3zM602 726h2v1h-2zM605 728h5v1h-5zM610 727h8v1h-8zM618 726h5v1h-5zM623 725h3v1h-3zM626 724h2v1h-2zM628 723h3v1h-3zM631 722h3v1h-3zM634 721h2v1h-2zM636 720h3v1h-3zM639 721h3v1h-3zM642 722h2v1h-2zM644 723h18v1h-18zM669 734h5v1h-5zM674 733h4v1h-4zM693 735h3v1h-3zM696 734h4v1h-4zM700 733h4v1h-4zM704 732h4v1h-4zM708 731h2v1h-2zM717 743h2v1h-2zM719 742h2v1h-2zM721 741h2v1h-2zM723 740h2v1h-2zM725 739h5v1h-5zM730 738h5v1h-5zM735 739h3v1h-3zM738 740h2v1h-2zM740 741h3v1h-3zM743 740h2v1h-2zM745 739h2v1h-2zM747 738h2v1h-2zM750 738h2v1h-2zM754 741h2v1h-2zM758 742h2v1h-2zM760 741h2v1h-2zM763 739h2v1h-2zM766 739h2v1h-2zM768 740h2v1h-2zM771 742h2v1h-2zM776 740h2v1h-2zM797 758h5v1h-5zM802 759h5v1h-5zM807 758h3v1h-3zM810 757h2v1h-2zM812 756h4v1h-4zM816 755h4v1h-4zM820 754h2v1h-2zM822 753h2v1h-2zM824 752h2v1h-2zM827 750h2v1h-2zM829 749h5v1h-5zM834 748h8v1h-8zM842 747h6v1h-6zM848 746h4v1h-4zM852 745h4v1h-4zM856 746h4v1h-4zM860 747h3v1h-3zM863 746h2v1h-2zM865 745h2v1h-2zM867 744h2v1h-2zM877 751h2v1h-2zM879 752h3v1h-3zM882 753h2v1h-2zM884 754h6v1h-6zM890 755h8v1h-8zM898 754h5v1h-5zM903 753h2v1h-2zM905 752h2v1h-2zM907 751h2v1h-2zM912 753h2v1h-2zM918 756h2v1h-2zM920 755h2v1h-2zM923 753h2v1h-2zM925 752h3v1h-3zM928 753h4v1h-4zM932 754h2v1h-2zM941 765h2v1h-2zM943 766h2v1h-2zM945 767h2v1h-2zM947 768h2v1h-2zM949 769h3v1h-3zM952 768h4v1h-4zM956 767h4v1h-4zM960 768h4v1h-4zM964 769h4v1h-4zM968 770h4v1h-4zM972 771h2v1h-2zM982 787h2v1h-2zM984 788h2v1h-2zM987 790h2v1h-2zM990 790h2v1h-2zM994 787h2v1h-2zM997 785h17v1h-17zM1014 786h2v1h-2zM1018 789h2v1h-2zM1021 791h3v1h-3zM1024 792h4v1h-4zM1028 793h4v1h-4zM1032 792h4v1h-4zM1036 791h3v1h-3zM1039 790h2v1h-2zM1041 789h2v1h-2zM1043 788h2v1h-2zM1045 787h2v1h-2zM1047 786h3v1h-3zM1050 785h2v1h-2zM1052 784h6v1h-6zM1058 783h5v1h-5zM1063 784h3v1h-3zM1066 785h2v1h-2zM1068 786h4v1h-4zM1072 787h4v1h-4zM1076 788h6v1h-6zM1082 787h4v1h-4zM1093 779h2v1h-2zM1095 778h3v1h-3zM1098 777h2v1h-2zM1100 776h6v1h-6zM1106 775h6v1h-6zM1112 776h4v1h-4zM1116 777h4v1h-4zM1120 778h4v1h-4zM1124 779h6v1h-6zM1130 778h4v1h-4zM1136 775h2v1h-2zM1142 770h2v1h-2zM1146 767h2v1h-2zM1157 752h2v1h-2zM1159 751h3v1h-3zM1162 750h2v1h-2zM1164 749h2v1h-2zM1176 766h2v1h-2zM1189 762h5v1h-5zM1194 763h16v1h-16zM1210 764h4v1h-4zM1214 765h2v1h-2zM1216 766h2v1h-2zM1219 768h2v1h-2zM1221 769h2v1h-2zM1223 770h3v1h-3zM1226 771h2v1h-2zM1228 772h2v1h-2zM1230 771h2v1h-2zM1232 770h2v1h-2zM1235 768h2v1h-2zM1237 767h3v1h-3zM1240 766h4v1h-4zM1244 765h3v1h-3zM1247 764h2v1h-2zM1249 763h2v1h-2zM1251 762h2v1h-2zM1253 761h9v1h-9zM1264 764h2v1h-2zM1270 769h2v1h-2zM1274 772h2v1h-2zM1277 774h3v1h-3zM1280 775h4v1h-4zM1284 776h2v1h-2zM1286 775h2v1h-2zM1290 772h2v1h-2zM1301 762h13v1h-13zM1314 761h5v1h-5zM1319 762h3v1h-3zM1322 763h2v1h-2zM1324 764h6v1h-6zM1330 765h3v1h-3zM18 732v1h1v-1zM38 732v1h1v-1zM39 733v1h1v-1zM40 734v1h1v-1zM41 735v1h1v-1zM42 736v1h1v-1zM43 737v1h1v-1zM44 738v1h1v-1zM45 739v1h1v-1zM50 742v1h1v-1zM61 742v1h1v-1zM62 743v2h1v-2zM63 745v2h1v-2zM64 747v2h1v-2zM65 749v3h1v-3zM66 752v2h1v-2zM67 754v2h1v-2zM68 756v2h1v-2zM69 758v1h1v-1zM90 758v1h1v-1zM104 760v1h1v-1zM105 759v1h1v-1zM108 757v1h1v-1zM168 747v1h1v-1zM169 748v1h1v-1zM172 750v1h1v-1zM205 760v1h1v-1zM206 761v2h1v-2zM207 763v2h1v-2zM208 765v2h1v-2zM209 767v3h1v-3zM210 770v2h1v-2zM211 772v2h1v-2zM212 774v2h1v-2zM213 777v1h1v-1zM216 775v1h1v-1zM217 774v1h1v-1zM220 772v1h1v-1zM230 771v1h1v-1zM231 770v1h1v-1zM234 768v1h1v-1zM235 767v1h1v-1zM236 766v1h1v-1zM246 767v1h1v-1zM247 766v1h1v-1zM250 764v1h1v-1zM251 763v1h1v-1zM252 762v1h1v-1zM253 761v1h1v-1zM254 760v1h1v-1zM255 759v1h1v-1zM256 758v1h1v-1zM257 757v1h1v-1zM258 756v1h1v-1zM259 755v1h1v-1zM260 754v1h1v-1zM293 751v1h1v-1zM296 753v1h1v-1zM297 754v1h1v-1zM300 756v1h1v-1zM328 763v1h1v-1zM329 764v1h1v-1zM332 766v1h1v-1zM344 767v1h1v-1zM345 766v1h1v-1zM349 763v1h1v-1zM350 765v2h1v-2zM351 767v3h1v-3zM352 770v2h1v-2zM353 772v3h1v-3zM354 775v2h1v-2zM355 777v3h1v-3zM356 780v2h1v-2zM357 783v1h1v-1zM358 781v1h1v-1zM359 779v2h1v-2zM360 777v2h1v-2zM361 776v1h1v-1zM362 774v2h1v-2zM363 772v2h1v-2zM364 770v2h1v-2zM365 769v1h1v-1zM370 766v1h1v-1zM390 766v1h1v-1zM391 765v1h1v-1zM392 764v1h1v-1zM393 762v2h1v-2zM394 761v1h1v-1zM395 760v1h1v-1zM396 759v1h1v-1zM397 758v1h1v-1zM398 756v2h1v-2zM399 755v1h1v-1zM400 754v1h1v-1zM401 752v2h1v-2zM402 751v1h1v-1zM403 750v1h1v-1zM404 748v2h1v-2zM445 748v1h1v-1zM446 746v2h1v-2zM447 744v2h1v-2zM448 743v1h1v-1zM449 741v2h1v-2zM450 740v1h1v-1zM451 738v2h1v-2zM452 736v2h1v-2zM530 735v1h1v-1zM570 733v1h1v-1zM573 735v1h1v-1zM578 738v1h1v-1zM589 739v1h1v-1zM590 737v2h1v-2zM591 735v2h1v-2zM592 733v2h1v-2zM593 730v3h1v-3zM594 728v2h1v-2zM595 726v2h1v-2zM596 724v2h1v-2zM597 722v1h1v-1zM600 724v1h1v-1zM601 725v1h1v-1zM604 727v1h1v-1zM662 724v2h1v-2zM663 726v1h1v-1zM664 727v1h1v-1zM665 728v2h1v-2zM666 730v1h1v-1zM667 731v1h1v-1zM668 732v2h1v-2zM678 734v2h1v-2zM679 736v1h1v-1zM680 737v1h1v-1zM681 738v2h1v-2zM682 740v1h1v-1zM683 741v1h1v-1zM684 742v2h1v-2zM685 744v1h1v-1zM686 743v1h1v-1zM687 742v1h1v-1zM688 741v1h1v-1zM689 739v2h1v-2zM690 738v1h1v-1zM691 737v1h1v-1zM692 736v1h1v-1zM710 732v2h1v-2zM711 734v1h1v-1zM712 735v2h1v-2zM713 737v1h1v-1zM714 738v2h1v-2zM715 740v1h1v-1zM716 741v2h1v-2zM749 737v1h1v-1zM752 739v1h1v-1zM753 740v1h1v-1zM756 742v1h1v-1zM757 743v1h1v-1zM762 740v1h1v-1zM765 738v1h1v-1zM770 741v1h1v-1zM773 743v1h1v-1zM774 742v1h1v-1zM775 741v1h1v-1zM778 739v1h1v-1zM779 738v1h1v-1zM780 737v1h1v-1zM781 736v1h1v-1zM782 737v2h1v-2zM783 739v2h1v-2zM784 741v1h1v-1zM785 742v2h1v-2zM786 744v1h1v-1zM787 745v2h1v-2zM788 747v2h1v-2zM789 749v1h1v-1zM790 750v1h1v-1zM791 751v1h1v-1zM792 752v1h1v-1zM793 753v2h1v-2zM794 755v1h1v-1zM795 756v1h1v-1zM796 757v1h1v-1zM826 751v1h1v-1zM869 743v1h1v-1zM870 744v1h1v-1zM871 745v1h1v-1zM872 746v1h1v-1zM873 747v1h1v-1zM874 748v1h1v-1zM875 749v1h1v-1zM876 750v1h1v-1zM909 750v1h1v-1zM910 751v1h1v-1zM911 752v1h1v-1zM914 754v1h1v-1zM915 755v1h1v-1zM916 756v1h1v-1zM917 757v1h1v-1zM922 754v1h1v-1zM934 755v2h1v-2zM935 757v1h1v-1zM936 758v1h1v-1zM937 759v2h1v-2zM938 761v1h1v-1zM939 762v1h1v-1zM940 763v2h1v-2zM974 772v2h1v-2zM975 774v2h1v-2zM976 776v2h1v-2zM977 778v2h1v-2zM978 780v2h1v-2zM979 782v2h1v-2zM980 784v2h1v-2zM981 786v1h1v-1zM986 789v1h1v-1zM989 791v1h1v-1zM992 789v1h1v-1zM993 788v1h1v-1zM996 786v1h1v-1zM1016 787v1h1v-1zM1017 788v1h1v-1zM1020 790v1h1v-1zM1086 786v1h1v-1zM1087 785v1h1v-1zM1088 784v1h1v-1zM1089 783v1h1v-1zM1090 782v1h1v-1zM1091 781v1h1v-1zM1092 780v1h1v-1zM1134 777v1h1v-1zM1135 776v1h1v-1zM1138 774v1h1v-1zM1139 773v1h1v-1zM1140 772v1h1v-1zM1141 771v1h1v-1zM1144 769v1h1v-1zM1145 768v1h1v-1zM1148 766v1h1v-1zM1149 765v1h1v-1zM1150 763v2h1v-2zM1151 761v2h1v-2zM1152 760v1h1v-1zM1153 758v2h1v-2zM1154 757v1h1v-1zM1155 755v2h1v-2zM1156 753v2h1v-2zM1166 750v2h1v-2zM1167 752v2h1v-2zM1168 754v2h1v-2zM1169 756v1h1v-1zM1170 757v2h1v-2zM1171 759v2h1v-2zM1172 761v2h1v-2zM1173 763v1h1v-1zM1174 764v1h1v-1zM1175 765v1h1v-1zM1178 767v1h1v-1zM1179 768v1h1v-1zM1180 769v1h1v-1zM1181 770v1h1v-1zM1182 769v1h1v-1zM1183 768v1h1v-1zM1184 767v1h1v-1zM1185 766v1h1v-1zM1186 765v1h1v-1zM1187 764v1h1v-1zM1188 763v1h1v-1zM1218 767v1h1v-1zM1234 769v1h1v-1zM1262 762v1h1v-1zM1263 763v1h1v-1zM1266 765v1h1v-1zM1267 766v1h1v-1zM1268 767v1h1v-1zM1269 768v1h1v-1zM1272 770v1h1v-1zM1273 771v1h1v-1zM1276 773v1h1v-1zM1288 774v1h1v-1zM1289 773v1h1v-1zM1292 771v1h1v-1zM1293 770v1h1v-1zM1294 769v1h1v-1zM1295 768v1h1v-1zM1296 767v1h1v-1zM1297 766v1h1v-1zM1298 765v1h1v-1zM1299 764v1h1v-1zM1300 763v1h1v-1z" fill="#1e90ff" shape-rendering="crispEdges"/>
<g shape-rendering="crispEdges" fill="#000">
<rect x="4" y="2" width="1682" height="1"/>
<rect x="4" y="2" width="1" height="816"/>
<rect x="1685" y="2" width="1" height="816"/>
<rect x="4" y="523" width="1682" height="1"/>
<rect x="4" y="525" width="1682" height="1"/>
<rect x="4" y="691" width="1682" height="1"/>
<rect x="4" y="693" width="1682" height="1"/>
<rect x="4" y="817" width="1683" height="1"/>
<rect x="4" y="524" width="1" height="1" fill="#fff"/><rect x="4" y="692" width="1" height="1" fill="#fff"/>
<rect x="1685" y="524" width="1" height="1" fill="#fff"/><rect x="1685" y="692" width="1" height="1" fill="#fff"/>
<rect x="1686" y="25" width="2" height="1"/>
<rect x="1686" y="58" width="2" height="1"/>
<rect x="1686" y="91" width="2" height="1"/>
<rect x="1686" y="124" width="2" height="1"/>
<rect x="1686" y="157" width="2" height="1"/>
<rect x="1686" y="190" width="2" height="1"/>
<rect x="1686" y="223" width="2" height="1"/>
<rect x="1686" y="256" width="2" height="1"/>
<rect x="1686" y="289" width="2" height="1"/>
<rect x="1686" y="322" width="2" height="1"/>
<rect x="1686" y="355" width="2" height="1"/>
<rect x="1686" y="388" width="2" height="1"/>
<rect x="1686" y="421" width="2" height="1"/>
<rect x="1686" y="454" width="2" height="1"/>
<rect x="1686" y="487" width="2" height="1"/>
<rect x="1686" y="520" width="2" height="1"/>
<rect x="1686" y="601" width="2" height="1"/>
<rect x="1686" y="690" width="1" height="1"/><rect x="1686" y="695" width="1" height="1"/><rect x="1686" y="527" width="1" height="1"/>
<rect x="5" y="818" width="1" height="3"/>
<rect x="69" y="818" width="1" height="3"/>
<rect x="133" y="818" width="1" height="3"/>
<rect x="197" y="818" width="1" height="3"/>
<rect x="261" y="818" width="1" height="3"/>
<rect x="325" y="818" width="1" height="3"/>
<rect x="389" y="818" width="1" height="3"/>
<rect x="453" y="818" width="1" height="3"/>
<rect x="517" y="818" width="1" height="3"/>
<rect x="581" y="818" width="1" height="3"/>
<rect x="645" y="818" width="1" height="3"/>
<rect x="709" y="818" width="1" height="3"/>
<rect x="773" y="818" width="1" height="3"/>
<rect x="837" y="818" width="1" height="3"/>
<rect x="901" y="818" width="1" height="3"/>
<rect x="965" y="818" width="1" height="3"/>
<rect x="1029" y="818" width="1" height="3"/>
<rect x="1093" y="818" width="1" height="3"/>
<rect x="1157" y="818" width="1" height="3"/>
<rect x="1221" y="818" width="1" height="3"/>
<rect x="1285" y="818" width="1" height="3"/>
</g>
<g shape-rendering="crispEdges" fill="#778899"><rect x="1343" y="3" width="9" height="1"/><rect x="1344" y="4" width="7" height="1"/><rect x="1345" y="5" width="5" height="1"/><rect x="1346" y="6" width="3" height="1"/><rect x="1347" y="7" width="1" height="1"/></g>
<g shape-rendering="crispEdges" fill="#000"><rect x="8" y="9" width="7" height="1"/><rect x="9" y="10" width="5" height="1"/><rect x="10" y="11" width="3" height="1"/><rect x="11" y="12" width="1" height="1"/></g>
<text x="20" y="14" xml:space="preserve" textLength="204" lengthAdjust="spacingAndGlyphs">XAUUSD-,H4&#160; 1782.05 1783.25 1777.24 1781.88</text>
<text x="9.5" y="538"  textLength="123.3" lengthAdjust="spacingAndGlyphs">MACD(12,26,9) -4.892 -5.741</text>
<text x="9.5" y="706"  textLength="67.5" lengthAdjust="spacingAndGlyphs">RSI(14) 42.5118</text>
<text x="1691.5" y="29"  textLength="32.3" lengthAdjust="spacingAndGlyphs">1877.70</text>
<text x="1691.5" y="62"  textLength="32.3" lengthAdjust="spacingAndGlyphs">1869.70</text>
<text x="1691.5" y="95"  textLength="32.3" lengthAdjust="spacingAndGlyphs">1861.50</text>
<text x="1691.5" y="128"  textLength="32.3" lengthAdjust="spacingAndGlyphs">1853.50</text>
<text x="1691.5" y="161"  textLength="32.3" lengthAdjust="spacingAndGlyphs">1845.30</text>
<text x="1691.5" y="194"  textLength="32.3" lengthAdjust="spacingAndGlyphs">1837.30</text>
<text x="1691.5" y="227"  textLength="32.3" lengthAdjust="spacingAndGlyphs">1829.10</text>
<text x="1691.5" y="260"  textLength="32.3" lengthAdjust="spacingAndGlyphs">1821.10</text>
<text x="1691.5" y="293"  textLength="32.3" lengthAdjust="spacingAndGlyphs">1812.90</text>
<text x="1691.5" y="326"  textLength="32.3" lengthAdjust="spacingAndGlyphs">1804.90</text>
<text x="1691.5" y="359"  textLength="32.3" lengthAdjust="spacingAndGlyphs">1796.70</text>
<text x="1691.5" y="392"  textLength="32.3" lengthAdjust="spacingAndGlyphs">1788.70</text>
<text x="1691.5" y="425"  textLength="32.3" lengthAdjust="spacingAndGlyphs">1780.50</text>
<text x="1691.5" y="458"  textLength="32.3" lengthAdjust="spacingAndGlyphs">1772.50</text>
<text x="1691.5" y="491"  textLength="32.3" lengthAdjust="spacingAndGlyphs">1764.30</text>
<text x="1691.5" y="524"  textLength="32.3" lengthAdjust="spacingAndGlyphs">1756.30</text>
<text x="1689.5" y="536"  textLength="27.2" lengthAdjust="spacingAndGlyphs">16.277</text>
<text x="1689.5" y="605"  textLength="17.0" lengthAdjust="spacingAndGlyphs">0.00</text>
<text x="1689.5" y="688"  textLength="30.6" lengthAdjust="spacingAndGlyphs">-19.389</text>
<text x="1689.5" y="704"  textLength="14.7" lengthAdjust="spacingAndGlyphs">100</text>
<text x="1689.5" y="735"  textLength="9.8" lengthAdjust="spacingAndGlyphs">70</text>
<text x="1689.5" y="784"  textLength="9.8" lengthAdjust="spacingAndGlyphs">30</text>
<text x="1689.5" y="814"  textLength="4.9" lengthAdjust="spacingAndGlyphs">0</text>
<text x="4" y="830"  textLength="50.6" lengthAdjust="spacingAndGlyphs">25 Oct 2021</text>
<text x="68" y="830"  textLength="52.7" lengthAdjust="spacingAndGlyphs">26 Oct 12:00</text>
<text x="132" y="830"  textLength="52.7" lengthAdjust="spacingAndGlyphs">27 Oct 20:00</text>
<text x="196" y="830"  textLength="52.7" lengthAdjust="spacingAndGlyphs">29 Oct 04:00</text>
<text x="260" y="830"  textLength="51.4" lengthAdjust="spacingAndGlyphs">1 Nov 12:00</text>
<text x="324" y="830"  textLength="51.4" lengthAdjust="spacingAndGlyphs">2 Nov 20:00</text>
<text x="388" y="830"  textLength="51.4" lengthAdjust="spacingAndGlyphs">4 Nov 04:00</text>
<text x="452" y="830"  textLength="51.4" lengthAdjust="spacingAndGlyphs">5 Nov 12:00</text>
<text x="516" y="830"  textLength="51.4" lengthAdjust="spacingAndGlyphs">8 Nov 20:00</text>
<text x="580" y="830"  textLength="56.3" lengthAdjust="spacingAndGlyphs">10 Nov 04:00</text>
<text x="644" y="830"  textLength="56.3" lengthAdjust="spacingAndGlyphs">11 Nov 12:00</text>
<text x="708" y="830"  textLength="56.3" lengthAdjust="spacingAndGlyphs">14 Nov 23:00</text>
<text x="772" y="830"  textLength="56.3" lengthAdjust="spacingAndGlyphs">16 Nov 04:00</text>
<text x="836" y="830"  textLength="56.3" lengthAdjust="spacingAndGlyphs">17 Nov 12:00</text>
<text x="900" y="830"  textLength="56.3" lengthAdjust="spacingAndGlyphs">18 Nov 20:00</text>
<text x="964" y="830"  textLength="56.3" lengthAdjust="spacingAndGlyphs">22 Nov 04:00</text>
<text x="1028" y="830"  textLength="56.3" lengthAdjust="spacingAndGlyphs">23 Nov 12:00</text>
<text x="1092" y="830"  textLength="56.3" lengthAdjust="spacingAndGlyphs">24 Nov 20:00</text>
<text x="1156" y="830"  textLength="56.3" lengthAdjust="spacingAndGlyphs">26 Nov 04:00</text>
<text x="1220" y="830"  textLength="56.3" lengthAdjust="spacingAndGlyphs">29 Nov 12:00</text>
<text x="1284" y="830"  textLength="56.3" lengthAdjust="spacingAndGlyphs">30 Nov 20:00</text>
<rect x="1687" y="275" width="41" height="11" fill="#ff0000" shape-rendering="crispEdges"/>
<text x="1691.5" y="284" style="fill:#fff" textLength="32.3" lengthAdjust="spacingAndGlyphs">1815.00</text>
<rect x="1687" y="336" width="41" height="11" fill="#ff0000" shape-rendering="crispEdges"/>
<text x="1691.5" y="345" style="fill:#fff" textLength="32.3" lengthAdjust="spacingAndGlyphs">1800.00</text>
<rect x="1687" y="397" width="41" height="11" fill="#32cd32" shape-rendering="crispEdges"/>
<text x="1691.5" y="406" style="fill:#fff" textLength="32.3" lengthAdjust="spacingAndGlyphs">1785.00</text>
<rect x="1687" y="411" width="41" height="11" fill="#000000" shape-rendering="crispEdges"/>
<text x="1691.5" y="420" style="fill:#fff" textLength="32.3" lengthAdjust="spacingAndGlyphs">1781.88</text>
<text x="1380" y="467" style="font-family:'Liberation Sans','Noto Sans CJK TC',sans-serif;font-size:33px;fill:#ed1c24" textLength="241" lengthAdjust="spacingAndGlyphs">多空轉折點1785</text>
</svg></body></html>
